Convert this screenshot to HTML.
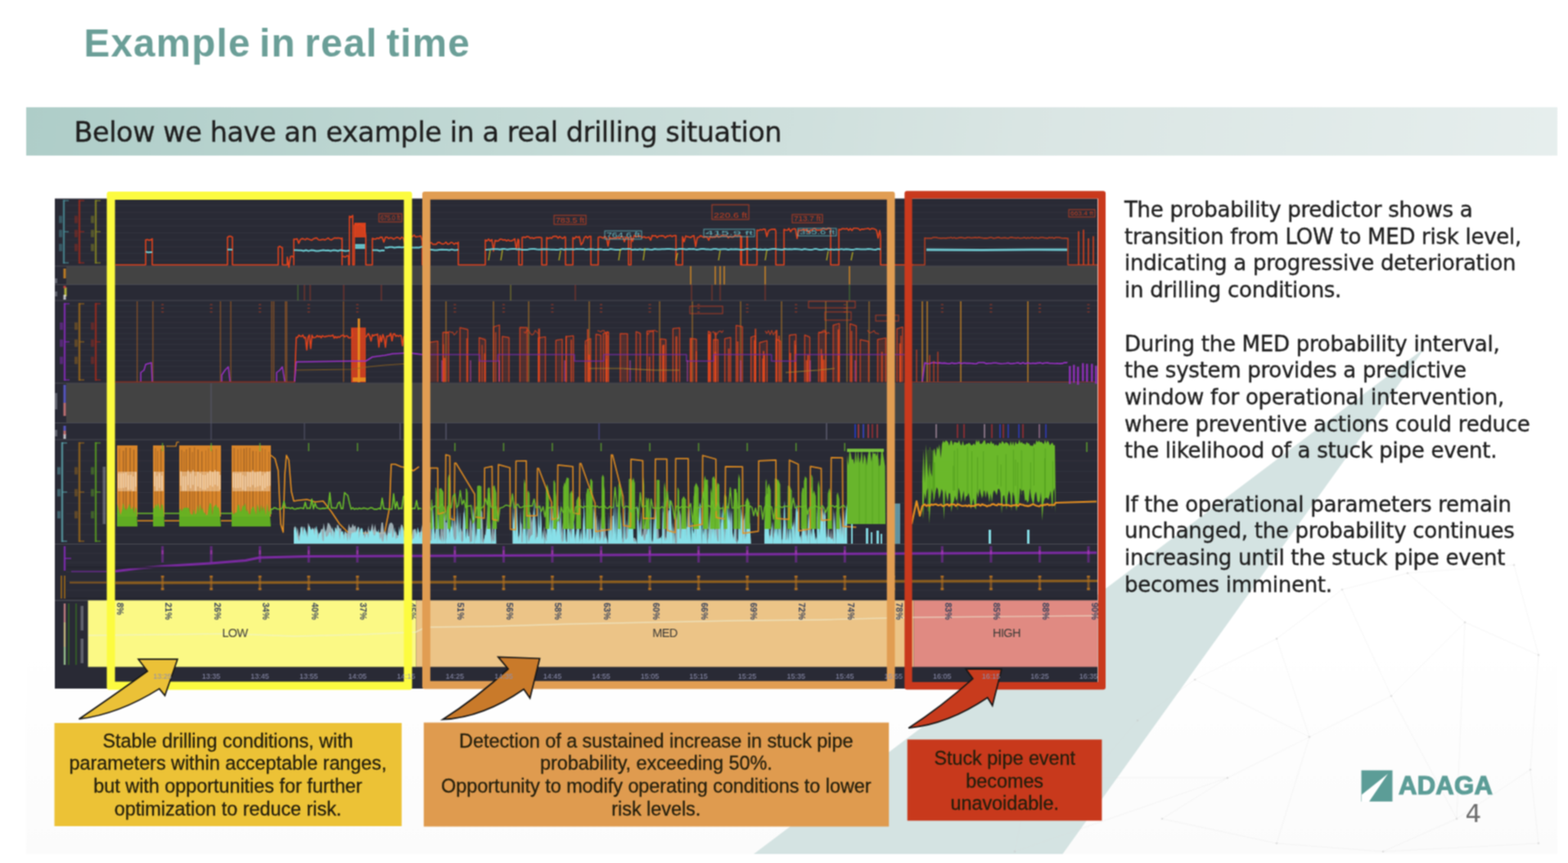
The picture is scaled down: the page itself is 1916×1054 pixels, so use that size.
<!DOCTYPE html>
<html><head><meta charset="utf-8"><title>Example in real time</title>
<style>
html,body{margin:0;padding:0;}
body{width:1916px;height:1054px;overflow:hidden;position:relative;background:#fff;font-family:"DejaVu Sans","Liberation Sans",sans-serif;}
.abs{position:absolute;}
#title{left:102.5px;top:22.5px;font-family:"Liberation Sans",Arial,sans-serif;font-weight:bold;font-size:47.5px;letter-spacing:1.25px;word-spacing:-4px;color:#6b9f98;white-space:nowrap;line-height:60px;}
#banner{left:32px;top:131px;width:1871px;height:58.5px;background:linear-gradient(100deg,#aecdc8 0%,#c4dad6 35%,#d9e5e3 65%,#e6eeed 100%);}
#banner span{position:absolute;left:58.5px;top:11px;font-size:33.5px;letter-spacing:-0.44px;color:#1f1f1f;white-space:nowrap;line-height:40px;}
#rtext{left:1374px;top:240px;width:540px;font-size:26px;letter-spacing:-0.27px;line-height:32.7px;color:#1e1e1e;}
#rtext p{margin:0 0 32.7px 0;white-space:nowrap;}
#rtext,#banner span{-webkit-text-stroke:0.35px currentColor;}
.box{-webkit-text-stroke:0.3px currentColor;}
#page{position:absolute;left:0;top:0;width:1916px;height:1054px;filter:url(#soft);}
.box{position:absolute;font-family:"Liberation Sans",Arial,sans-serif;font-size:23.35px;line-height:27.7px;color:#231e0c;text-align:center;}
#logo{left:1709px;top:942px;font-family:"Liberation Sans",Arial,sans-serif;font-weight:bold;font-size:31px;color:#5c9d97;letter-spacing:0.3px;-webkit-text-stroke:1.2px #5c9d97;line-height:36px;}
#pnum{left:1790.5px;top:975px;font-family:"DejaVu Sans","Liberation Sans",sans-serif;font-weight:normal;font-size:31px;color:#6e6e6e;line-height:36px;}
</style></head><body>

<svg width="0" height="0" style="position:absolute"><filter id="soft" x="0" y="0" width="100%" height="100%" color-interpolation-filters="sRGB"><feConvolveMatrix order="3" kernelMatrix="1 2 1 2 4 2 1 2 1" divisor="16" edgeMode="duplicate"/></filter></svg>
<div id="page">
<svg class="abs" style="left:0;top:0" width="1916" height="1054" viewBox="0 0 1916 1054">
<defs><linearGradient id="panelg" x1="0" y1="0" x2="0" y2="1"><stop offset="0" stop-color="#ffffff"/><stop offset="0.7" stop-color="#ffffff"/><stop offset="1" stop-color="#fbfbfb"/></linearGradient></defs>

<rect x="32" y="195" width="1871" height="848" fill="url(#panelg)"/>
<polygon points="1741,425 1298.5,1043 921,1043" fill="#d4e3e2"/>

<line x1="1390" y1="880" x2="1460" y2="830" stroke="#d8d8d8" stroke-width="0.7" opacity="0.35"/><line x1="1460" y1="830" x2="1560" y2="780" stroke="#d8d8d8" stroke-width="0.7" opacity="0.35"/><line x1="1560" y1="780" x2="1640" y2="720" stroke="#d8d8d8" stroke-width="0.7" opacity="0.35"/><line x1="1640" y1="720" x2="1720" y2="700" stroke="#d8d8d8" stroke-width="0.7" opacity="0.35"/><line x1="1720" y1="700" x2="1850" y2="690" stroke="#d8d8d8" stroke-width="0.7" opacity="0.35"/><line x1="1850" y1="690" x2="1880" y2="800" stroke="#d8d8d8" stroke-width="0.7" opacity="0.35"/><line x1="1720" y1="700" x2="1790" y2="760" stroke="#d8d8d8" stroke-width="0.7" opacity="0.35"/><line x1="1790" y1="760" x2="1880" y2="800" stroke="#d8d8d8" stroke-width="0.7" opacity="0.35"/><line x1="1790" y1="760" x2="1700" y2="850" stroke="#d8d8d8" stroke-width="0.7" opacity="0.35"/><line x1="1700" y1="850" x2="1600" y2="900" stroke="#d8d8d8" stroke-width="0.7" opacity="0.35"/><line x1="1600" y1="900" x2="1500" y2="950" stroke="#d8d8d8" stroke-width="0.7" opacity="0.35"/><line x1="1500" y1="950" x2="1420" y2="1000" stroke="#d8d8d8" stroke-width="0.7" opacity="0.35"/><line x1="1420" y1="1000" x2="1560" y2="1030" stroke="#d8d8d8" stroke-width="0.7" opacity="0.35"/><line x1="1560" y1="1030" x2="1690" y2="1040" stroke="#d8d8d8" stroke-width="0.7" opacity="0.35"/><line x1="1690" y1="1040" x2="1780" y2="1000" stroke="#d8d8d8" stroke-width="0.7" opacity="0.35"/><line x1="1780" y1="1000" x2="1870" y2="940" stroke="#d8d8d8" stroke-width="0.7" opacity="0.35"/><line x1="1870" y1="940" x2="1880" y2="800" stroke="#d8d8d8" stroke-width="0.7" opacity="0.35"/><line x1="1870" y1="940" x2="1880" y2="1030" stroke="#d8d8d8" stroke-width="0.7" opacity="0.35"/><line x1="1880" y1="1030" x2="1690" y2="1040" stroke="#d8d8d8" stroke-width="0.7" opacity="0.35"/><line x1="1600" y1="900" x2="1560" y2="1030" stroke="#d8d8d8" stroke-width="0.7" opacity="0.35"/><line x1="1560" y1="780" x2="1600" y2="900" stroke="#d8d8d8" stroke-width="0.7" opacity="0.35"/><line x1="1700" y1="850" x2="1780" y2="1000" stroke="#d8d8d8" stroke-width="0.7" opacity="0.35"/><line x1="1390" y1="880" x2="1330" y2="950" stroke="#d8d8d8" stroke-width="0.7" opacity="0.35"/><line x1="1330" y1="950" x2="1250" y2="990" stroke="#d8d8d8" stroke-width="0.7" opacity="0.35"/><line x1="1250" y1="990" x2="1240" y2="1040" stroke="#d8d8d8" stroke-width="0.7" opacity="0.35"/><line x1="1330" y1="950" x2="1500" y2="950" stroke="#d8d8d8" stroke-width="0.7" opacity="0.35"/><line x1="1460" y1="830" x2="1600" y2="900" stroke="#d8d8d8" stroke-width="0.7" opacity="0.35"/><line x1="1640" y1="720" x2="1700" y2="850" stroke="#d8d8d8" stroke-width="0.7" opacity="0.35"/><line x1="1790" y1="760" x2="1780" y2="1000" stroke="#d8d8d8" stroke-width="0.7" opacity="0.35"/><line x1="1500" y1="950" x2="1240" y2="1040" stroke="#d8d8d8" stroke-width="0.7" opacity="0.35"/><circle cx="1390" cy="880" r="1.3" fill="#c4c4c4" opacity="0.45"/><circle cx="1460" cy="830" r="1.3" fill="#c4c4c4" opacity="0.45"/><circle cx="1560" cy="780" r="1.3" fill="#c4c4c4" opacity="0.45"/><circle cx="1640" cy="720" r="1.3" fill="#c4c4c4" opacity="0.45"/><circle cx="1720" cy="700" r="1.3" fill="#c4c4c4" opacity="0.45"/><circle cx="1850" cy="690" r="1.3" fill="#c4c4c4" opacity="0.45"/><circle cx="1790" cy="760" r="1.3" fill="#c4c4c4" opacity="0.45"/><circle cx="1880" cy="800" r="1.3" fill="#c4c4c4" opacity="0.45"/><circle cx="1700" cy="850" r="1.3" fill="#c4c4c4" opacity="0.45"/><circle cx="1600" cy="900" r="1.3" fill="#c4c4c4" opacity="0.45"/><circle cx="1500" cy="950" r="1.3" fill="#c4c4c4" opacity="0.45"/><circle cx="1420" cy="1000" r="1.3" fill="#c4c4c4" opacity="0.45"/><circle cx="1560" cy="1030" r="1.3" fill="#c4c4c4" opacity="0.45"/><circle cx="1690" cy="1040" r="1.3" fill="#c4c4c4" opacity="0.45"/><circle cx="1780" cy="1000" r="1.3" fill="#c4c4c4" opacity="0.45"/><circle cx="1870" cy="940" r="1.3" fill="#c4c4c4" opacity="0.45"/><circle cx="1880" cy="1030" r="1.3" fill="#c4c4c4" opacity="0.45"/><circle cx="1330" cy="950" r="1.3" fill="#c4c4c4" opacity="0.45"/><circle cx="1250" cy="990" r="1.3" fill="#c4c4c4" opacity="0.45"/><circle cx="1240" cy="1040" r="1.3" fill="#c4c4c4" opacity="0.45"/>
<rect x="67" y="242.5" width="1274" height="598.5" fill="#292a35" />
<rect x="81" y="325" width="1260" height="22.5" fill="#434343" />
<rect x="81" y="468" width="1260" height="48.5" fill="#434343" />
<line x1="81" y1="250.9" x2="1341" y2="250.9" stroke="#32333e" stroke-width="1"/>
<line x1="81" y1="259.3" x2="1341" y2="259.3" stroke="#32333e" stroke-width="1"/>
<line x1="81" y1="267.7" x2="1341" y2="267.7" stroke="#32333e" stroke-width="1"/>
<line x1="81" y1="276.1" x2="1341" y2="276.1" stroke="#32333e" stroke-width="1"/>
<line x1="81" y1="284.5" x2="1341" y2="284.5" stroke="#32333e" stroke-width="1"/>
<line x1="81" y1="292.9" x2="1341" y2="292.9" stroke="#32333e" stroke-width="1"/>
<line x1="81" y1="301.3" x2="1341" y2="301.3" stroke="#32333e" stroke-width="1"/>
<line x1="81" y1="309.7" x2="1341" y2="309.7" stroke="#32333e" stroke-width="1"/>
<line x1="81" y1="318.1" x2="1341" y2="318.1" stroke="#32333e" stroke-width="1"/>
<line x1="81" y1="373.7" x2="1341" y2="373.7" stroke="#32333e" stroke-width="1"/>
<line x1="81" y1="380.4" x2="1341" y2="380.4" stroke="#32333e" stroke-width="1"/>
<line x1="81" y1="387.1" x2="1341" y2="387.1" stroke="#32333e" stroke-width="1"/>
<line x1="81" y1="393.8" x2="1341" y2="393.8" stroke="#32333e" stroke-width="1"/>
<line x1="81" y1="400.5" x2="1341" y2="400.5" stroke="#32333e" stroke-width="1"/>
<line x1="81" y1="407.2" x2="1341" y2="407.2" stroke="#32333e" stroke-width="1"/>
<line x1="81" y1="413.9" x2="1341" y2="413.9" stroke="#32333e" stroke-width="1"/>
<line x1="81" y1="420.6" x2="1341" y2="420.6" stroke="#32333e" stroke-width="1"/>
<line x1="81" y1="427.3" x2="1341" y2="427.3" stroke="#32333e" stroke-width="1"/>
<line x1="81" y1="434" x2="1341" y2="434" stroke="#32333e" stroke-width="1"/>
<line x1="81" y1="440.7" x2="1341" y2="440.7" stroke="#32333e" stroke-width="1"/>
<line x1="81" y1="447.4" x2="1341" y2="447.4" stroke="#32333e" stroke-width="1"/>
<line x1="81" y1="454.1" x2="1341" y2="454.1" stroke="#32333e" stroke-width="1"/>
<line x1="81" y1="460.8" x2="1341" y2="460.8" stroke="#32333e" stroke-width="1"/>
<line x1="81" y1="549.9" x2="1341" y2="549.9" stroke="#32333e" stroke-width="1"/>
<line x1="81" y1="562.8" x2="1341" y2="562.8" stroke="#32333e" stroke-width="1"/>
<line x1="81" y1="575.7" x2="1341" y2="575.7" stroke="#32333e" stroke-width="1"/>
<line x1="81" y1="588.6" x2="1341" y2="588.6" stroke="#32333e" stroke-width="1"/>
<line x1="81" y1="601.5" x2="1341" y2="601.5" stroke="#32333e" stroke-width="1"/>
<line x1="81" y1="614.4" x2="1341" y2="614.4" stroke="#32333e" stroke-width="1"/>
<line x1="81" y1="627.3" x2="1341" y2="627.3" stroke="#32333e" stroke-width="1"/>
<line x1="81" y1="640.2" x2="1341" y2="640.2" stroke="#32333e" stroke-width="1"/>
<line x1="81" y1="653.1" x2="1341" y2="653.1" stroke="#32333e" stroke-width="1"/>
<line x1="81" y1="675.8" x2="1341" y2="675.8" stroke="#32333e" stroke-width="1"/>
<line x1="81" y1="687.1" x2="1341" y2="687.1" stroke="#32333e" stroke-width="1"/>
<line x1="81" y1="698.4" x2="1341" y2="698.4" stroke="#32333e" stroke-width="1"/>
<line x1="81" y1="709.7" x2="1341" y2="709.7" stroke="#32333e" stroke-width="1"/>
<line x1="81" y1="721" x2="1341" y2="721" stroke="#32333e" stroke-width="1"/>
<line x1="81" y1="732.3" x2="1341" y2="732.3" stroke="#32333e" stroke-width="1"/>
<line x1="67" y1="325" x2="1341" y2="325" stroke="#4a4b53" stroke-width="1.2"/>
<line x1="67" y1="347.5" x2="1341" y2="347.5" stroke="#4a4b53" stroke-width="1.2"/>
<line x1="67" y1="367" x2="1341" y2="367" stroke="#4a4b53" stroke-width="1.2"/>
<line x1="67" y1="468" x2="1341" y2="468" stroke="#4a4b53" stroke-width="1.2"/>
<line x1="67" y1="516.5" x2="1341" y2="516.5" stroke="#4a4b53" stroke-width="1.2"/>
<line x1="67" y1="537" x2="1341" y2="537" stroke="#4a4b53" stroke-width="1.2"/>
<line x1="67" y1="664.5" x2="1341" y2="664.5" stroke="#4a4b53" stroke-width="1.2"/>
<line x1="67" y1="733.3" x2="1341" y2="733.3" stroke="#4a4b53" stroke-width="1.2"/>
<polyline points="141,323.5 178,323.5 178,293 180,292.4 182,293.5 184,293.1 186,291.6 186,323.5 278,323.5 278,290 280,288.5 282,288.6 284,289.8 284,323.5 340,323.5 340,302 342,300.8 344,302.4 345,302.2 345,323.5 351,323.5 351,314 353,326.4 355,313.3 357,312.8 359,315 359,323.5 359,292 361,292.3 363,291.6 365,297.3 367,292.6 369,291.4 371,291.9 373,292.9 375,291.2 377,292.1 379,292.7 381,293.5 383,291.7 385,290.9 387,290.5 389,292.8 391,293.2 393,292.6 395,292.3 397,293.1 399,291.9 401,290.6 403,292.5 405,293 407,291.6 409,290.5 411,290.9 413,290.6 415,290.8 417,291.7 418,290.7 418,323.5 418,313 420,313.2 422,314 424,312.3 426,312.5 426,323.5 427,323.5 427,264 429,265.5 431,263 431,323.5 433,323.5 433,275 435,274.1 437,275.3 439,273.4 441,274.6 443,276.4 445,275 447,287.9 447,323.5 455,323.5 455,291 457,291.9 459,292 461,290.7 463,291.4 465,289.6 467,289.9 469,295.7 471,289.7 473,289.5 475,291.4 477,290.2 479,290.6 481,292.1 483,290.9 485,289.7 487,290.5 489,292.1 491,289.5 493,291.1 495,299.8 497,292.5 499,291.6 500,290.6 500,323.5 500,288 502,288.9 504,288.9 506,287.1 508,289.6 510,289 512,288.8 514,288.1 516,294.1 516,323.5 525,323.5 525,297 527,296.2 529,298.5 531,298.4 533,298.5 535,296.1 537,296 539,297.4 541,298.1 543,297.5 545,295.7 547,298.3 549,297.8 551,296 553,296.5 555,298.5 557,296.7 559,297.7 560,295.8 560,323.5 593,323.5 593,293 595,294.3 597,291.9 599,294.5 601,292.5 603,306.7 605,293.5 607,294.4 609,294.2 611,292.1 613,292.3 615,293.3 617,292.7 619,294.3 621,292.9 623,294.3 625,294.3 627,293.1 629,291.5 631,304.8 633,292 634,293.7 634,323.5 638,323.5 638,290 640,289.4 642,290.2 644,288.7 646,289.2 648,290.9 650,290.2 652,291.3 654,290.4 656,290 658,289.8 660,289.9 662,290.6 662,323.5 668,323.5 668,290 670,291.4 672,290.2 674,291.1 676,288.8 678,288.6 680,288.6 682,290.9 684,288.9 686,290.5 688,291.2 690,289.1 691,289.7 691,323.5 700,323.5 700,290 702,291.6 704,288.9 706,290 708,289 710,299.1 712,296.6 714,290.4 716,288.6 718,290.9 720,288.7 722,288.5 722,323.5 731,323.5 731,290 733,289.3 735,289.8 737,291 739,288.9 741,290.2 743,300.6 745,289.8 747,291.4 749,291 751,291.1 753,291.2 755,289.5 757,291.4 759,288.8 761,289.2 763,295.2 765,289.4 767,290.8 768,290 768,323.5 771,323.5 771,289 773,294.8 775,287.4 777,289.2 779,288.9 781,287.7 783,288.8 785,290.1 787,289 789,290.5 791,290.1 793,289.4 795,293.4 797,287.6 799,288.2 801,287.7 803,290.2 805,288.3 807,288.3 809,287.9 811,288.2 813,290.5 815,288.2 817,288.4 819,287.4 821,288.9 823,288 825,287.4 826,287.7 826,323.5 834,323.5 834,289 836,295.3 838,288.1 840,289.1 842,289.5 844,290.2 846,288.4 848,287.9 850,301.2 852,290.3 854,289.7 856,287.8 858,289 860,290 862,289.3 864,289.6 866,293.5 868,288.6 870,290.1 872,289.4 874,289.6 876,287.4 878,289.8 880,289.1 882,287.6 884,288.2 886,288.2 888,288.1 890,290.5 892,288.6 894,289.6 896,289.4 898,287.6 900,288.2 902,288.4 904,287.4 905,288.3 905,323.5 925,323.5 925,281 927,281.6 929,280.3 931,280.9 933,279.8 935,280 937,289 939,282 941,280.8 943,280.1 945,280.1 947,279.9 948,282.4 948,323.5 958,323.5 958,280 960,281 962,281.2 964,279.1 966,283 968,280 970,279.4 972,279.5 974,291.3 976,281.1 978,281.4 980,281.3 982,279.6 984,281.6 986,279.6 988,284.1 990,281.1 992,281.4 994,279.3 996,279 998,281.5 1000,281 1002,281.3 1004,280.2 1006,278.6 1008,279.8 1010,280.5 1012,278.6 1014,278.8 1015,279.5 1015,323.5 1025,323.5 1025,280 1027,280.8 1029,279.2 1031,279.4 1033,279.7 1035,278.9 1037,281.3 1039,279.1 1041,281.6 1043,278.8 1045,278.7 1047,278.7 1049,279.2 1051,281.2 1053,279.7 1055,280.1 1057,279.5 1059,279.3 1061,278.8 1063,280.4 1065,279.1 1067,279.2 1069,279.8 1071,281.1 1073,290.8 1075,281.3 1076,287.3 1076,323.5 1116,323.5" fill="none" stroke="#e3431c" stroke-width="1.6" stroke-linejoin="round"/>
<polyline points="1114,323.5 1130,323.5 1130,290.5 1132,291.1 1134,291 1136,291 1138,291.2 1140,290.1 1142,290 1144,290 1146,290.5 1148,290.8 1150,291.1 1152,290.8 1154,290.7 1156,290.9 1158,290.4 1160,290.6 1162,289.9 1164,290.9 1166,290.1 1168,291.1 1170,290.7 1172,290.2 1174,290 1176,290.2 1178,290.7 1180,290.8 1182,290 1184,289.9 1186,290.5 1188,290.6 1190,290.3 1192,290.1 1194,290.6 1196,289.8 1198,290.2 1200,290.4 1202,291.1 1204,290.7 1206,291 1208,290.5 1210,290.1 1212,290.1 1214,291.1 1216,290.8 1218,290.2 1220,289.8 1222,290.5 1224,290.7 1226,290.4 1228,290.2 1230,290.7 1232,291.1 1234,290.1 1236,289.8 1238,290.3 1240,290.4 1242,290.8 1244,290.1 1246,290.9 1248,290.8 1250,290.5 1252,290.1 1254,291.2 1256,290.2 1258,290.9 1260,290.1 1262,290.1 1264,290.9 1266,290.2 1268,291.1 1270,290.5 1272,290.1 1274,290.1 1276,290.4 1278,290.7 1280,291.1 1282,290 1284,290.4 1286,290.1 1288,291.2 1290,290 1292,289.9 1294,289.9 1296,290.4 1298,291.1 1300,291 1302,290.8 1304,291.2 1305,291.1 1305,323.5 1341,323.5" fill="none" stroke="#c8401e" stroke-width="1.5" stroke-linejoin="round" opacity="0.9"/>
<rect x="433" y="272" width="14" height="18" fill="#e3431c" opacity="0.9" />
<line x1="906" y1="288" x2="906" y2="323" stroke="#e3431c" stroke-width="2.2" opacity="0.9"/>
<line x1="913" y1="288" x2="913" y2="323" stroke="#e3431c" stroke-width="2.2" opacity="0.9"/>
<line x1="1318" y1="323.5" x2="1318" y2="282.6" stroke="#e3431c" stroke-width="1.5"/>
<line x1="1324" y1="323.5" x2="1324" y2="280.6" stroke="#e3431c" stroke-width="1.5"/>
<line x1="1330" y1="323.5" x2="1330" y2="291.1" stroke="#e3431c" stroke-width="1.5"/>
<line x1="1336" y1="323.5" x2="1336" y2="288.4" stroke="#e3431c" stroke-width="1.5"/>
<polyline points="178,307.4 181,308.2 184,307.9 186,308" fill="none" stroke="#6ccdd4" stroke-width="2.0" stroke-linejoin="round"/>
<polyline points="278,304.8 281,304.8 284,305" fill="none" stroke="#6ccdd4" stroke-width="2.0" stroke-linejoin="round"/>
<polyline points="359,305.6 362,305.4 365,305.7 368,305.8 371,306.5 374,305.5 377,306.6 380,305.6 383,305.8 386,306.4 389,306.4 392,305.9 395,305.5 398,306 401,305.8 404,306.5 407,305.6 410,305.8 413,306.5 416,305.4 419,305.9 422,306.4 425,306.3 427,306" fill="none" stroke="#6ccdd4" stroke-width="2.0" stroke-linejoin="round"/>
<polyline points="455,305.4 458,305.4 461,305.5 464,306.5 467,305.7 470,306" fill="none" stroke="#6ccdd4" stroke-width="2.0" stroke-linejoin="round"/>
<polyline points="470,302.3 473,302.5 476,301.8 479,301.7 482,302.5 485,302.1 488,301.7 491,302.3 494,301.8 497,301.7 500,301.4 503,302.3 506,302.5 509,302.2 512,302.5 515,301.4 516,302" fill="none" stroke="#6ccdd4" stroke-width="2.0" stroke-linejoin="round"/>
<polyline points="525,304.7 528,305 531,305.5 534,305.5 537,304.9 540,304.7 543,304.9 546,305 549,305.5 552,304.6 555,305.4 558,305.3 560,305" fill="none" stroke="#6ccdd4" stroke-width="2.0" stroke-linejoin="round"/>
<polyline points="593,304.9 596,304.8 599,304.6 602,304.3 605,304.3 608,304.3 611,304.8 614,304 617,304.1 620,304.8 623,304.2 626,304 629,303.9 632,304.6 635,304.3 638,305.1 641,305 644,305.1 647,304.2 650,304 653,304 656,304.5 659,304.8 662,304.4 665,304.2 668,304.4 671,304.6 674,304.7 677,304.8 680,304.9 683,304.7 686,304 689,304.9 692,304.3 695,304.6 698,304.3 701,304.8 704,304.1 707,304.2 710,304.2 713,304.1 716,305 719,304.6 722,304.3 725,304.4 728,305.1 731,304.5 734,304.2 737,304.9 740,304.7 743,305.1 746,304 749,304.5 752,304.9 755,304.9 758,305 761,303.9 764,304.3 767,304 770,304.1 773,305.1 776,304.6 779,305 782,304.3 785,304.9 788,304.4 791,304.2 794,304.8 797,305 800,304 803,304.6 806,304.6 809,304.2 812,304.3 815,304.1 818,304.1 821,304.2 824,304.6 827,304.7 830,304.1 833,303.9 836,304.3 839,304.7 842,304.1 845,304.3 848,304.1 851,304.9 854,304.6 857,304 860,304 863,304.4 866,304.6 869,304.7 872,304 875,304.1 878,304.7 881,304.4 884,304.2 887,304.3 890,305 893,304.3 896,304.6 899,304.3 902,304.4 905,304.9 908,305.1 911,304.3 914,304.1 917,304.8 920,304.1 923,303.9 926,305 929,304.4 932,304.9 935,304.4 938,305 941,304.5 944,304.1 947,303.9 950,304.6 953,304.7 956,305 959,304 962,304.6 965,304.3 968,304.5 971,304.1 974,304.2 977,304.5 980,305 983,304 986,304.5 989,304.9 992,305.1 995,304.1 998,304.1 1001,305 1004,305.1 1007,304.5 1010,304 1013,305 1016,304.4 1019,305 1022,304.6 1025,304.9 1028,304.1 1031,304.8 1034,304.2 1037,304.4 1040,304.9 1043,304.9 1046,304.1 1049,304.2 1052,304.4 1055,304.5 1058,304.4 1061,304 1064,304.2 1067,304.8 1070,305 1073,303.9 1076,304.5" fill="none" stroke="#6ccdd4" stroke-width="2.0" stroke-linejoin="round"/>
<rect x="434" y="298" width="12" height="6" fill="#6ccdd4" opacity="0.9" />
<polyline points="1132,305 1200,305.3 1260,304.8 1304,305" fill="none" stroke="#74d2da" stroke-width="2.8" stroke-linejoin="round" opacity="0.95"/>
<rect x="463" y="261" width="28" height="10" fill="none" stroke="#e3431c" stroke-width="1" opacity="0.75"/>
<text x="477.0" y="269.0" font-family="Liberation Sans, Arial, sans-serif" font-size="9" fill="#e3431c" text-anchor="middle" opacity="0.85" textLength="24" lengthAdjust="spacingAndGlyphs">675.0 ft</text>
<rect x="677" y="263" width="39" height="11" fill="none" stroke="#e3431c" stroke-width="1" opacity="0.75"/>
<text x="696.5" y="272.0" font-family="Liberation Sans, Arial, sans-serif" font-size="9" fill="#e3431c" text-anchor="middle" opacity="0.85" textLength="35" lengthAdjust="spacingAndGlyphs">783.5 ft</text>
<rect x="870" y="250" width="45" height="18" fill="none" stroke="#e3431c" stroke-width="1" opacity="0.75"/>
<text x="892.5" y="266.0" font-family="Liberation Sans, Arial, sans-serif" font-size="9" fill="#e3431c" text-anchor="middle" opacity="0.85" textLength="41" lengthAdjust="spacingAndGlyphs">220.6 ft</text>
<rect x="968" y="262" width="37" height="10" fill="none" stroke="#e3431c" stroke-width="1" opacity="0.75"/>
<text x="986.5" y="270.0" font-family="Liberation Sans, Arial, sans-serif" font-size="9" fill="#e3431c" text-anchor="middle" opacity="0.85" textLength="33" lengthAdjust="spacingAndGlyphs">713.7 ft</text>
<rect x="1306" y="256" width="32" height="9" fill="none" stroke="#e3431c" stroke-width="1" opacity="0.75"/>
<text x="1322.0" y="263.0" font-family="Liberation Sans, Arial, sans-serif" font-size="8" fill="#e3431c" text-anchor="middle" opacity="0.85" textLength="28" lengthAdjust="spacingAndGlyphs">663.4 ft</text>
<rect x="739" y="282" width="45" height="10" fill="none" stroke="#6ccdd4" stroke-width="1" opacity="0.75"/>
<text x="761.5" y="290.0" font-family="Liberation Sans, Arial, sans-serif" font-size="9" fill="#6ccdd4" text-anchor="middle" opacity="0.85" textLength="41" lengthAdjust="spacingAndGlyphs">764.6 ft</text>
<rect x="860" y="280" width="62" height="9" fill="none" stroke="#6ccdd4" stroke-width="1" opacity="0.75"/>
<text x="891.0" y="287.0" font-family="Liberation Sans, Arial, sans-serif" font-size="8" fill="#6ccdd4" text-anchor="middle" opacity="0.85" textLength="58" lengthAdjust="spacingAndGlyphs">415.9 ft</text>
<rect x="975" y="279" width="47" height="9" fill="none" stroke="#6ccdd4" stroke-width="1" opacity="0.75"/>
<text x="998.5" y="286.0" font-family="Liberation Sans, Arial, sans-serif" font-size="8" fill="#6ccdd4" text-anchor="middle" opacity="0.85" textLength="43" lengthAdjust="spacingAndGlyphs">355.6 ft</text>
<line x1="597" y1="318" x2="599" y2="305.3" stroke="#d7cf1f" stroke-width="1.3" opacity="0.8"/>
<line x1="612" y1="318" x2="614" y2="305.2" stroke="#d7cf1f" stroke-width="1.3" opacity="0.8"/>
<line x1="683" y1="318" x2="685" y2="306" stroke="#d7cf1f" stroke-width="1.3" opacity="0.8"/>
<line x1="756" y1="318" x2="758" y2="304.1" stroke="#d7cf1f" stroke-width="1.3" opacity="0.8"/>
<line x1="786" y1="318" x2="788" y2="303" stroke="#d7cf1f" stroke-width="1.3" opacity="0.8"/>
<line x1="826" y1="318" x2="828" y2="308.9" stroke="#d7cf1f" stroke-width="1.3" opacity="0.8"/>
<line x1="878" y1="318" x2="880" y2="305.8" stroke="#d7cf1f" stroke-width="1.3" opacity="0.8"/>
<line x1="935" y1="318" x2="937" y2="305.7" stroke="#d7cf1f" stroke-width="1.3" opacity="0.8"/>
<line x1="1010" y1="318" x2="1012" y2="306.7" stroke="#d7cf1f" stroke-width="1.3" opacity="0.8"/>
<line x1="1040" y1="318" x2="1042" y2="307.9" stroke="#d7cf1f" stroke-width="1.3" opacity="0.8"/>
<line x1="844" y1="325" x2="844" y2="347.5" stroke="#e8901f" stroke-width="1.6" opacity="0.8"/>
<line x1="874" y1="325" x2="874" y2="347.5" stroke="#e8901f" stroke-width="1.6" opacity="0.8"/>
<line x1="880" y1="325" x2="880" y2="347.5" stroke="#e8901f" stroke-width="1.6" opacity="0.8"/>
<line x1="885" y1="325" x2="885" y2="347.5" stroke="#e8901f" stroke-width="1.6" opacity="0.8"/>
<line x1="935" y1="325" x2="935" y2="347.5" stroke="#e8901f" stroke-width="1.6" opacity="0.8"/>
<line x1="1038" y1="325" x2="1038" y2="347.5" stroke="#e8901f" stroke-width="1.6" opacity="0.8"/>
<line x1="624" y1="348" x2="624" y2="367" stroke="#d7cf1f" stroke-width="1" opacity="0.55"/>
<line x1="364" y1="348" x2="364" y2="367" stroke="#6abd2a" stroke-width="1" opacity="0.55"/>
<line x1="372" y1="348" x2="372" y2="367" stroke="#e3431c" stroke-width="1" opacity="0.55"/>
<line x1="379" y1="348" x2="379" y2="367" stroke="#e3431c" stroke-width="1" opacity="0.55"/>
<line x1="420" y1="348" x2="420" y2="367" stroke="#e3431c" stroke-width="1" opacity="0.55"/>
<line x1="466" y1="348" x2="466" y2="367" stroke="#e3431c" stroke-width="1" opacity="0.55"/>
<line x1="703" y1="348" x2="703" y2="367" stroke="#e3431c" stroke-width="1" opacity="0.55"/>
<line x1="845" y1="348" x2="845" y2="367" stroke="#e3431c" stroke-width="1" opacity="0.55"/>
<line x1="870" y1="348" x2="870" y2="367" stroke="#e3431c" stroke-width="1" opacity="0.55"/>
<line x1="880" y1="348" x2="880" y2="367" stroke="#e3431c" stroke-width="1" opacity="0.55"/>
<line x1="935" y1="348" x2="935" y2="367" stroke="#e3431c" stroke-width="1" opacity="0.55"/>
<line x1="1038" y1="348" x2="1038" y2="367" stroke="#6abd2a" stroke-width="1" opacity="0.55"/>
<line x1="167.6" y1="368" x2="167.6" y2="466.5" stroke="#b8661e" stroke-width="1.4" opacity="0.6"/>
<line x1="186.8" y1="368" x2="186.8" y2="466.5" stroke="#b8661e" stroke-width="1.4" opacity="0.6"/>
<line x1="269.4" y1="368" x2="269.4" y2="466.5" stroke="#b8661e" stroke-width="1.4" opacity="0.6"/>
<line x1="282" y1="368" x2="282" y2="466.5" stroke="#b8661e" stroke-width="1.4" opacity="0.6"/>
<line x1="332" y1="368" x2="332" y2="466.5" stroke="#b8661e" stroke-width="1.4" opacity="0.6"/>
<line x1="334.5" y1="368" x2="334.5" y2="466.5" stroke="#b8661e" stroke-width="1.4" opacity="0.6"/>
<line x1="348.7" y1="368" x2="348.7" y2="466.5" stroke="#b8661e" stroke-width="1.4" opacity="0.6"/>
<line x1="350.4" y1="368" x2="350.4" y2="466.5" stroke="#b8661e" stroke-width="1.4" opacity="0.6"/>
<line x1="419.7" y1="368" x2="419.7" y2="466.5" stroke="#b8661e" stroke-width="1.4" opacity="0.6"/>
<line x1="545" y1="368" x2="545" y2="466.5" stroke="#d08a22" stroke-width="1.4" opacity="0.6"/>
<line x1="603" y1="368" x2="603" y2="466.5" stroke="#d08a22" stroke-width="1.4" opacity="0.6"/>
<line x1="646" y1="368" x2="646" y2="466.5" stroke="#d08a22" stroke-width="1.4" opacity="0.6"/>
<line x1="720" y1="368" x2="720" y2="466.5" stroke="#d08a22" stroke-width="1.4" opacity="0.6"/>
<line x1="806" y1="368" x2="806" y2="466.5" stroke="#d08a22" stroke-width="1.4" opacity="0.6"/>
<line x1="846" y1="368" x2="846" y2="466.5" stroke="#d08a22" stroke-width="1.4" opacity="0.6"/>
<line x1="905" y1="368" x2="905" y2="466.5" stroke="#d08a22" stroke-width="1.4" opacity="0.6"/>
<line x1="955" y1="368" x2="955" y2="466.5" stroke="#d08a22" stroke-width="1.4" opacity="0.6"/>
<line x1="1009" y1="368" x2="1009" y2="466.5" stroke="#d08a22" stroke-width="1.4" opacity="0.6"/>
<line x1="1035" y1="368" x2="1035" y2="466.5" stroke="#d08a22" stroke-width="1.4" opacity="0.6"/>
<line x1="1062" y1="368" x2="1062" y2="466.5" stroke="#d08a22" stroke-width="1.4" opacity="0.6"/>
<line x1="1088" y1="368" x2="1088" y2="466.5" stroke="#d08a22" stroke-width="1.4" opacity="0.6"/>
<line x1="1127" y1="368" x2="1127" y2="466.5" stroke="#d08a22" stroke-width="1.5" opacity="0.85"/>
<line x1="1133" y1="368" x2="1133" y2="466.5" stroke="#d08a22" stroke-width="1.5" opacity="0.85"/>
<line x1="1174" y1="368" x2="1174" y2="466.5" stroke="#d08a22" stroke-width="1.5" opacity="0.85"/>
<line x1="1256" y1="368" x2="1256" y2="466.5" stroke="#d08a22" stroke-width="1.5" opacity="0.85"/>
<line x1="197.1" y1="372" x2="200.1" y2="372" stroke="#e3431c" stroke-width="1.2" opacity="0.55"/>
<line x1="197.1" y1="376.5" x2="200.1" y2="376.5" stroke="#e3431c" stroke-width="1.2" opacity="0.55"/>
<line x1="197.1" y1="381" x2="200.1" y2="381" stroke="#e3431c" stroke-width="1.2" opacity="0.55"/>
<line x1="256.6" y1="372" x2="259.6" y2="372" stroke="#e3431c" stroke-width="1.2" opacity="0.55"/>
<line x1="256.6" y1="376.5" x2="259.6" y2="376.5" stroke="#e3431c" stroke-width="1.2" opacity="0.55"/>
<line x1="256.6" y1="381" x2="259.6" y2="381" stroke="#e3431c" stroke-width="1.2" opacity="0.55"/>
<line x1="316.1" y1="372" x2="319.1" y2="372" stroke="#e3431c" stroke-width="1.2" opacity="0.55"/>
<line x1="316.1" y1="376.5" x2="319.1" y2="376.5" stroke="#e3431c" stroke-width="1.2" opacity="0.55"/>
<line x1="316.1" y1="381" x2="319.1" y2="381" stroke="#e3431c" stroke-width="1.2" opacity="0.55"/>
<line x1="375.7" y1="372" x2="378.7" y2="372" stroke="#e3431c" stroke-width="1.2" opacity="0.55"/>
<line x1="375.7" y1="376.5" x2="378.7" y2="376.5" stroke="#e3431c" stroke-width="1.2" opacity="0.55"/>
<line x1="375.7" y1="381" x2="378.7" y2="381" stroke="#e3431c" stroke-width="1.2" opacity="0.55"/>
<line x1="435.2" y1="372" x2="438.2" y2="372" stroke="#e3431c" stroke-width="1.2" opacity="0.55"/>
<line x1="435.2" y1="376.5" x2="438.2" y2="376.5" stroke="#e3431c" stroke-width="1.2" opacity="0.55"/>
<line x1="435.2" y1="381" x2="438.2" y2="381" stroke="#e3431c" stroke-width="1.2" opacity="0.55"/>
<line x1="494.8" y1="372" x2="497.8" y2="372" stroke="#e3431c" stroke-width="1.2" opacity="0.55"/>
<line x1="494.8" y1="376.5" x2="497.8" y2="376.5" stroke="#e3431c" stroke-width="1.2" opacity="0.55"/>
<line x1="494.8" y1="381" x2="497.8" y2="381" stroke="#e3431c" stroke-width="1.2" opacity="0.55"/>
<line x1="554.3" y1="372" x2="557.3" y2="372" stroke="#e3431c" stroke-width="1.2" opacity="0.55"/>
<line x1="554.3" y1="376.5" x2="557.3" y2="376.5" stroke="#e3431c" stroke-width="1.2" opacity="0.55"/>
<line x1="554.3" y1="381" x2="557.3" y2="381" stroke="#e3431c" stroke-width="1.2" opacity="0.55"/>
<line x1="613.9" y1="372" x2="616.9" y2="372" stroke="#e3431c" stroke-width="1.2" opacity="0.55"/>
<line x1="613.9" y1="376.5" x2="616.9" y2="376.5" stroke="#e3431c" stroke-width="1.2" opacity="0.55"/>
<line x1="613.9" y1="381" x2="616.9" y2="381" stroke="#e3431c" stroke-width="1.2" opacity="0.55"/>
<line x1="673.4" y1="372" x2="676.4" y2="372" stroke="#e3431c" stroke-width="1.2" opacity="0.55"/>
<line x1="673.4" y1="376.5" x2="676.4" y2="376.5" stroke="#e3431c" stroke-width="1.2" opacity="0.55"/>
<line x1="673.4" y1="381" x2="676.4" y2="381" stroke="#e3431c" stroke-width="1.2" opacity="0.55"/>
<line x1="733" y1="372" x2="736" y2="372" stroke="#e3431c" stroke-width="1.2" opacity="0.55"/>
<line x1="733" y1="376.5" x2="736" y2="376.5" stroke="#e3431c" stroke-width="1.2" opacity="0.55"/>
<line x1="733" y1="381" x2="736" y2="381" stroke="#e3431c" stroke-width="1.2" opacity="0.55"/>
<line x1="792.5" y1="372" x2="795.5" y2="372" stroke="#e3431c" stroke-width="1.2" opacity="0.55"/>
<line x1="792.5" y1="376.5" x2="795.5" y2="376.5" stroke="#e3431c" stroke-width="1.2" opacity="0.55"/>
<line x1="792.5" y1="381" x2="795.5" y2="381" stroke="#e3431c" stroke-width="1.2" opacity="0.55"/>
<line x1="852.1" y1="372" x2="855.1" y2="372" stroke="#e3431c" stroke-width="1.2" opacity="0.55"/>
<line x1="852.1" y1="376.5" x2="855.1" y2="376.5" stroke="#e3431c" stroke-width="1.2" opacity="0.55"/>
<line x1="852.1" y1="381" x2="855.1" y2="381" stroke="#e3431c" stroke-width="1.2" opacity="0.55"/>
<line x1="911.6" y1="372" x2="914.6" y2="372" stroke="#e3431c" stroke-width="1.2" opacity="0.55"/>
<line x1="911.6" y1="376.5" x2="914.6" y2="376.5" stroke="#e3431c" stroke-width="1.2" opacity="0.55"/>
<line x1="911.6" y1="381" x2="914.6" y2="381" stroke="#e3431c" stroke-width="1.2" opacity="0.55"/>
<line x1="971.2" y1="372" x2="974.2" y2="372" stroke="#e3431c" stroke-width="1.2" opacity="0.55"/>
<line x1="971.2" y1="376.5" x2="974.2" y2="376.5" stroke="#e3431c" stroke-width="1.2" opacity="0.55"/>
<line x1="971.2" y1="381" x2="974.2" y2="381" stroke="#e3431c" stroke-width="1.2" opacity="0.55"/>
<line x1="1030.8" y1="372" x2="1033.8" y2="372" stroke="#e3431c" stroke-width="1.2" opacity="0.55"/>
<line x1="1030.8" y1="376.5" x2="1033.8" y2="376.5" stroke="#e3431c" stroke-width="1.2" opacity="0.55"/>
<line x1="1030.8" y1="381" x2="1033.8" y2="381" stroke="#e3431c" stroke-width="1.2" opacity="0.55"/>
<line x1="1090.3" y1="372" x2="1093.3" y2="372" stroke="#e3431c" stroke-width="1.2" opacity="0.55"/>
<line x1="1090.3" y1="376.5" x2="1093.3" y2="376.5" stroke="#e3431c" stroke-width="1.2" opacity="0.55"/>
<line x1="1090.3" y1="381" x2="1093.3" y2="381" stroke="#e3431c" stroke-width="1.2" opacity="0.55"/>
<line x1="1149.8" y1="372" x2="1152.8" y2="372" stroke="#e3431c" stroke-width="1.2" opacity="0.55"/>
<line x1="1149.8" y1="376.5" x2="1152.8" y2="376.5" stroke="#e3431c" stroke-width="1.2" opacity="0.55"/>
<line x1="1149.8" y1="381" x2="1152.8" y2="381" stroke="#e3431c" stroke-width="1.2" opacity="0.55"/>
<line x1="1209.4" y1="372" x2="1212.4" y2="372" stroke="#e3431c" stroke-width="1.2" opacity="0.55"/>
<line x1="1209.4" y1="376.5" x2="1212.4" y2="376.5" stroke="#e3431c" stroke-width="1.2" opacity="0.55"/>
<line x1="1209.4" y1="381" x2="1212.4" y2="381" stroke="#e3431c" stroke-width="1.2" opacity="0.55"/>
<line x1="1269" y1="372" x2="1272" y2="372" stroke="#e3431c" stroke-width="1.2" opacity="0.55"/>
<line x1="1269" y1="376.5" x2="1272" y2="376.5" stroke="#e3431c" stroke-width="1.2" opacity="0.55"/>
<line x1="1269" y1="381" x2="1272" y2="381" stroke="#e3431c" stroke-width="1.2" opacity="0.55"/>
<line x1="1328.5" y1="372" x2="1331.5" y2="372" stroke="#e3431c" stroke-width="1.2" opacity="0.55"/>
<line x1="1328.5" y1="376.5" x2="1331.5" y2="376.5" stroke="#e3431c" stroke-width="1.2" opacity="0.55"/>
<line x1="1328.5" y1="381" x2="1331.5" y2="381" stroke="#e3431c" stroke-width="1.2" opacity="0.55"/>
<polyline points="360,466.5 362,412 363.6,412.2 365.2,409.3 366.8,410.5 368.4,411 370,409.2 371.6,412.7 373.2,411.9 374.8,427.5 376.4,411.6 378,409.1 379.6,425.6 381.2,409.4 382.8,412.5 384.4,412.2 386,411.7 387.6,409.9 389.2,411.4 390.8,410.3 392.4,412.6 394,410 395.6,410.9 397.2,411.5 398.8,410.5 400.4,410.6 402,410.1 403.6,410.5 405.2,410.1 406.8,409.2 408.4,412.9 410,411.1 411.6,412.6 413.2,411.1 414.8,412 416.4,410.5 418,409.6 419.6,409.3 421.2,411.5 422.8,410.2 424.4,410.2 426,412.5 427.6,412.6 429.2,412 430.8,410.2 430,402" fill="none" stroke="#e3431c" stroke-width="1.6" stroke-linejoin="round"/>
<rect x="429" y="400" width="18" height="67" fill="#e3431c" opacity="0.85" />
<rect x="437" y="389" width="3" height="78" fill="#e8901f" opacity="0.9" />
<rect x="431" y="461" width="16" height="5" fill="#e8901f" opacity="0.9" />
<polyline points="447,412 448.6,409.5 450.2,407.3 451.8,410.7 453.4,416.5 455,408.8 456.6,410.2 458.2,408.8 459.8,409.2 461.4,408 463,424 464.6,409.7 466.2,417.4 467.8,408.6 469.4,412.8 471,424.2 472.6,410.6 474.2,410.6 475.8,410 477.4,407 479,416.3 480.6,408 482.2,407.6 483.8,410.9 485.4,409.5 487,410.9 488.6,409.5 490.2,410.1 491.8,422.3 493.4,411.3 495,410.2 496.6,409.6 498.2,407.5 499.8,408.1 501.4,408.6 503,407.7" fill="none" stroke="#e3431c" stroke-width="1.6" stroke-linejoin="round"/>
<polyline points="172,466 172,455 176,452 178,445 185,443 186,466" fill="none" stroke="#9b30c8" stroke-width="1.5" stroke-linejoin="round"/>
<polyline points="271,466 271,458 275,452 279,448 281,466" fill="none" stroke="#9b30c8" stroke-width="1.5" stroke-linejoin="round"/>
<polyline points="338,466 338,455 342,452 345,448 348,466" fill="none" stroke="#9b30c8" stroke-width="1.5" stroke-linejoin="round"/>
<polyline points="360,466 362,442 430,441 447,441 455,436 470,434 480,432 500,431 516,433" fill="none" stroke="#9b30c8" stroke-width="1.5" stroke-linejoin="round"/>
<polyline points="141,466.5 360,466.5" fill="none" stroke="#a8341c" stroke-width="1.6" stroke-linejoin="round" opacity="0.75"/>
<polyline points="362,452 430,451 450,448 470,446 500,444" fill="none" stroke="#9a6a1e" stroke-width="1.2" stroke-linejoin="round" opacity="0.8"/>
<rect x="525" y="418.1" width="10" height="48.4" fill="#e3431c" opacity="0.21085610013643902" />
<polyline points="525,466.5 525,418.1 535,416.7 535,466.5" fill="none" stroke="#e3431c" stroke-width="1.3" stroke-linejoin="round" opacity="0.85"/>
<rect x="541.2" y="405.9" width="7" height="60.6" fill="#e3431c" opacity="0.18615200271281623" />
<polyline points="541.2,466.5 541.2,405.9 548.2,406 548.2,466.5" fill="none" stroke="#e3431c" stroke-width="1.3" stroke-linejoin="round" opacity="0.85"/>
<line x1="543.3" y1="437.1" x2="543.3" y2="466.5" stroke="#f04a1c" stroke-width="2.4518491439803967" opacity="0.75"/>
<line x1="541.8" y1="420.3" x2="541.8" y2="466.5" stroke="#f04a1c" stroke-width="1.4376774114706823" opacity="0.75"/>
<rect x="562.1" y="400.1" width="9.6" height="66.4" fill="#e3431c" opacity="0.08546981066006581" />
<polyline points="562.1,466.5 562.1,400.1 571.6,402.6 571.6,466.5" fill="none" stroke="#e3431c" stroke-width="1.3" stroke-linejoin="round" opacity="0.85"/>
<line x1="570.5" y1="413.1" x2="570.5" y2="466.5" stroke="#f04a1c" stroke-width="1.5348348537924028" opacity="0.75"/>
<rect x="585.5" y="412.3" width="7.7" height="54.2" fill="#e3431c" opacity="0.1664377973574646" />
<polyline points="585.5,466.5 585.5,412.3 593.2,415.2 593.2,466.5" fill="none" stroke="#e3431c" stroke-width="1.3" stroke-linejoin="round" opacity="0.85"/>
<line x1="589.1" y1="421.2" x2="589.1" y2="466.5" stroke="#f04a1c" stroke-width="1.2089343965093184" opacity="0.75"/>
<line x1="585.7" y1="438.2" x2="585.7" y2="466.5" stroke="#f04a1c" stroke-width="1.5273598745351782" opacity="0.75"/>
<line x1="592.3" y1="431.6" x2="592.3" y2="466.5" stroke="#f04a1c" stroke-width="1.7481882771229065" opacity="0.75"/>
<rect x="603.2" y="399.3" width="7.1" height="67.2" fill="#e3431c" opacity="0.06526617768633669" />
<polyline points="603.2,466.5 603.2,399.3 610.3,397 610.3,466.5" fill="none" stroke="#e3431c" stroke-width="1.3" stroke-linejoin="round" opacity="0.85"/>
<line x1="605.7" y1="405.7" x2="605.7" y2="466.5" stroke="#f04a1c" stroke-width="1.240225679004325" opacity="0.75"/>
<rect x="613.8" y="410.8" width="8.2" height="55.7" fill="#e3431c" opacity="0.1715212357852789" />
<polyline points="613.8,466.5 613.8,410.8 622,412.3 622,466.5" fill="none" stroke="#e3431c" stroke-width="1.3" stroke-linejoin="round" opacity="0.85"/>
<rect x="635.3" y="400" width="8.9" height="66.5" fill="#e3431c" opacity="0.21273116209454934" />
<polyline points="635.3,466.5 635.3,400 644.2,400.2 644.2,466.5" fill="none" stroke="#e3431c" stroke-width="1.3" stroke-linejoin="round" opacity="0.85"/>
<rect x="657.7" y="412.8" width="8.8" height="53.7" fill="#e3431c" opacity="0.12141482723607526" />
<polyline points="657.7,466.5 657.7,412.8 666.5,411.3 666.5,466.5" fill="none" stroke="#e3431c" stroke-width="1.3" stroke-linejoin="round" opacity="0.85"/>
<line x1="658.7" y1="401.4" x2="658.7" y2="466.5" stroke="#f04a1c" stroke-width="2.3868041461375045" opacity="0.75"/>
<rect x="679.3" y="415.6" width="7.7" height="50.9" fill="#e3431c" opacity="0.16104583934814837" />
<polyline points="679.3,466.5 679.3,415.6 687,414.4 687,466.5" fill="none" stroke="#e3431c" stroke-width="1.3" stroke-linejoin="round" opacity="0.85"/>
<rect x="691.6" y="411.2" width="9.1" height="55.3" fill="#e3431c" opacity="0.10711350359814031" />
<polyline points="691.6,466.5 691.6,411.2 700.7,410.2 700.7,466.5" fill="none" stroke="#e3431c" stroke-width="1.3" stroke-linejoin="round" opacity="0.85"/>
<line x1="691.8" y1="410.3" x2="691.8" y2="466.5" stroke="#f04a1c" stroke-width="1.5956305091662053" opacity="0.75"/>
<line x1="698.1" y1="414.7" x2="698.1" y2="466.5" stroke="#f04a1c" stroke-width="1.649159466303382" opacity="0.75"/>
<rect x="715.3" y="416.3" width="6.5" height="50.2" fill="#e3431c" opacity="0.1589241370506941" />
<polyline points="715.3,466.5 715.3,416.3 721.8,413.5 721.8,466.5" fill="none" stroke="#e3431c" stroke-width="1.3" stroke-linejoin="round" opacity="0.85"/>
<line x1="715.5" y1="420.7" x2="715.5" y2="466.5" stroke="#f04a1c" stroke-width="1.3376193187050098" opacity="0.75"/>
<line x1="718.3" y1="401.9" x2="718.3" y2="466.5" stroke="#f04a1c" stroke-width="1.992536395067006" opacity="0.75"/>
<line x1="719.9" y1="433.1" x2="719.9" y2="466.5" stroke="#f04a1c" stroke-width="2.0043572764674993" opacity="0.75"/>
<rect x="728.3" y="408.1" width="5.9" height="58.4" fill="#e3431c" opacity="0.10613354654572131" />
<polyline points="728.3,466.5 728.3,408.1 734.2,409.6 734.2,466.5" fill="none" stroke="#e3431c" stroke-width="1.3" stroke-linejoin="round" opacity="0.85"/>
<rect x="737.2" y="407.3" width="6.4" height="59.2" fill="#e3431c" opacity="0.1874835036103009" />
<polyline points="737.2,466.5 737.2,407.3 743.6,405.4 743.6,466.5" fill="none" stroke="#e3431c" stroke-width="1.3" stroke-linejoin="round" opacity="0.85"/>
<line x1="741" y1="438.3" x2="741" y2="466.5" stroke="#f04a1c" stroke-width="1.9211963740349196" opacity="0.75"/>
<line x1="740.9" y1="406.4" x2="740.9" y2="466.5" stroke="#f04a1c" stroke-width="2.3413373209580786" opacity="0.75"/>
<line x1="743.2" y1="409.3" x2="743.2" y2="466.5" stroke="#f04a1c" stroke-width="1.4321074392936566" opacity="0.75"/>
<rect x="757.9" y="407.3" width="8.9" height="59.2" fill="#e3431c" opacity="0.2185784360136489" />
<polyline points="757.9,466.5 757.9,407.3 766.8,407.6 766.8,466.5" fill="none" stroke="#e3431c" stroke-width="1.3" stroke-linejoin="round" opacity="0.85"/>
<rect x="777.3" y="405" width="5.2" height="61.5" fill="#e3431c" opacity="0.12313591348152364" />
<polyline points="777.3,466.5 777.3,405 782.5,407.4 782.5,466.5" fill="none" stroke="#e3431c" stroke-width="1.3" stroke-linejoin="round" opacity="0.85"/>
<rect x="790.6" y="404.3" width="7.8" height="62.2" fill="#e3431c" opacity="0.1085025647439902" />
<polyline points="790.6,466.5 790.6,404.3 798.4,403.9 798.4,466.5" fill="none" stroke="#e3431c" stroke-width="1.3" stroke-linejoin="round" opacity="0.85"/>
<line x1="793.6" y1="435.4" x2="793.6" y2="466.5" stroke="#f04a1c" stroke-width="1.5270058044902095" opacity="0.75"/>
<rect x="807" y="413.9" width="6.8" height="52.6" fill="#e3431c" opacity="0.1804783065382825" />
<polyline points="807,466.5 807,413.9 813.7,414.7 813.7,466.5" fill="none" stroke="#e3431c" stroke-width="1.3" stroke-linejoin="round" opacity="0.85"/>
<line x1="810.9" y1="420.9" x2="810.9" y2="466.5" stroke="#f04a1c" stroke-width="2.415197516831372" opacity="0.75"/>
<line x1="810" y1="422.1" x2="810" y2="466.5" stroke="#f04a1c" stroke-width="1.65266747800537" opacity="0.75"/>
<rect x="822.3" y="401.4" width="8.2" height="65.1" fill="#e3431c" opacity="0.09696391359097606" />
<polyline points="822.3,466.5 822.3,401.4 830.5,400.4 830.5,466.5" fill="none" stroke="#e3431c" stroke-width="1.3" stroke-linejoin="round" opacity="0.85"/>
<line x1="826.5" y1="410.7" x2="826.5" y2="466.5" stroke="#f04a1c" stroke-width="2.2566289870771215" opacity="0.75"/>
<rect x="843.4" y="413.1" width="7.6" height="53.4" fill="#e3431c" opacity="0.21596277385661725" />
<polyline points="843.4,466.5 843.4,413.1 851,414.4 851,466.5" fill="none" stroke="#e3431c" stroke-width="1.3" stroke-linejoin="round" opacity="0.85"/>
<line x1="844.6" y1="413.1" x2="844.6" y2="466.5" stroke="#f04a1c" stroke-width="1.4649827760619178" opacity="0.75"/>
<line x1="850.8" y1="429.1" x2="850.8" y2="466.5" stroke="#f04a1c" stroke-width="1.3425291942837991" opacity="0.75"/>
<rect x="865.5" y="404.6" width="2.9" height="61.9" fill="#e3431c" opacity="0.21741324561633962" />
<polyline points="865.5,466.5 865.5,404.6 868.4,406.4 868.4,466.5" fill="none" stroke="#e3431c" stroke-width="1.3" stroke-linejoin="round" opacity="0.85"/>
<line x1="866.8" y1="407.8" x2="866.8" y2="466.5" stroke="#f04a1c" stroke-width="2.0931732079085967" opacity="0.75"/>
<line x1="865.8" y1="408.3" x2="865.8" y2="466.5" stroke="#f04a1c" stroke-width="1.7436776999345636" opacity="0.75"/>
<rect x="871.8" y="414.8" width="5.6" height="51.7" fill="#e3431c" opacity="0.17095029619032404" />
<polyline points="871.8,466.5 871.8,414.8 877.4,414.8 877.4,466.5" fill="none" stroke="#e3431c" stroke-width="1.3" stroke-linejoin="round" opacity="0.85"/>
<line x1="874.4" y1="405.7" x2="874.4" y2="466.5" stroke="#f04a1c" stroke-width="2.0451922910923996" opacity="0.75"/>
<line x1="874.1" y1="429.6" x2="874.1" y2="466.5" stroke="#f04a1c" stroke-width="2.471205443099498" opacity="0.75"/>
<rect x="885.6" y="413.7" width="7.2" height="52.8" fill="#e3431c" opacity="0.1273847685408515" />
<polyline points="885.6,466.5 885.6,413.7 892.8,412.1 892.8,466.5" fill="none" stroke="#e3431c" stroke-width="1.3" stroke-linejoin="round" opacity="0.85"/>
<line x1="890.5" y1="425.7" x2="890.5" y2="466.5" stroke="#f04a1c" stroke-width="1.835463772755417" opacity="0.75"/>
<rect x="899.5" y="397.4" width="7.7" height="69.1" fill="#e3431c" opacity="0.12713286428737178" />
<polyline points="899.5,466.5 899.5,397.4 907.2,399.1 907.2,466.5" fill="none" stroke="#e3431c" stroke-width="1.3" stroke-linejoin="round" opacity="0.85"/>
<line x1="901.4" y1="416.9" x2="901.4" y2="466.5" stroke="#f04a1c" stroke-width="1.8372722627782838" opacity="0.75"/>
<rect x="917.6" y="411.9" width="5.7" height="54.6" fill="#e3431c" opacity="0.20883158072589975" />
<polyline points="917.6,466.5 917.6,411.9 923.3,410 923.3,466.5" fill="none" stroke="#e3431c" stroke-width="1.3" stroke-linejoin="round" opacity="0.85"/>
<line x1="922.1" y1="415.5" x2="922.1" y2="466.5" stroke="#f04a1c" stroke-width="1.8857762297352307" opacity="0.75"/>
<line x1="923.2" y1="401.5" x2="923.2" y2="466.5" stroke="#f04a1c" stroke-width="1.9607038803773678" opacity="0.75"/>
<rect x="928.2" y="418.5" width="9" height="48" fill="#e3431c" opacity="0.14307519596601426" />
<polyline points="928.2,466.5 928.2,418.5 937.3,416.1 937.3,466.5" fill="none" stroke="#e3431c" stroke-width="1.3" stroke-linejoin="round" opacity="0.85"/>
<line x1="933.1" y1="428.7" x2="933.1" y2="466.5" stroke="#f04a1c" stroke-width="1.9170676262866633" opacity="0.75"/>
<line x1="934" y1="433.2" x2="934" y2="466.5" stroke="#f04a1c" stroke-width="1.9303635782002848" opacity="0.75"/>
<line x1="932" y1="437.9" x2="932" y2="466.5" stroke="#f04a1c" stroke-width="1.49412518133513" opacity="0.75"/>
<rect x="948.5" y="414.1" width="5.5" height="52.4" fill="#e3431c" opacity="0.07958314028871831" />
<polyline points="948.5,466.5 948.5,414.1 954,417 954,466.5" fill="none" stroke="#e3431c" stroke-width="1.3" stroke-linejoin="round" opacity="0.85"/>
<line x1="952" y1="410.1" x2="952" y2="466.5" stroke="#f04a1c" stroke-width="1.7345713701811274" opacity="0.75"/>
<line x1="948.8" y1="403" x2="948.8" y2="466.5" stroke="#f04a1c" stroke-width="2.481609924053892" opacity="0.75"/>
<rect x="964.6" y="409.5" width="8.1" height="57" fill="#e3431c" opacity="0.07748135593465244" />
<polyline points="964.6,466.5 964.6,409.5 972.6,408.3 972.6,466.5" fill="none" stroke="#e3431c" stroke-width="1.3" stroke-linejoin="round" opacity="0.85"/>
<line x1="972.2" y1="421.1" x2="972.2" y2="466.5" stroke="#f04a1c" stroke-width="1.5064784660333568" opacity="0.75"/>
<line x1="971" y1="415.7" x2="971" y2="466.5" stroke="#f04a1c" stroke-width="1.4968178870554767" opacity="0.75"/>
<line x1="965.6" y1="431.1" x2="965.6" y2="466.5" stroke="#f04a1c" stroke-width="2.333401376886301" opacity="0.75"/>
<rect x="983.3" y="409.1" width="6.2" height="57.4" fill="#e3431c" opacity="0.09615788914518275" />
<polyline points="983.3,466.5 983.3,409.1 989.5,411.8 989.5,466.5" fill="none" stroke="#e3431c" stroke-width="1.3" stroke-linejoin="round" opacity="0.85"/>
<line x1="987.4" y1="433.2" x2="987.4" y2="466.5" stroke="#f04a1c" stroke-width="2.3133595507044404" opacity="0.75"/>
<line x1="985.8" y1="439.8" x2="985.8" y2="466.5" stroke="#f04a1c" stroke-width="2.2638431025115757" opacity="0.75"/>
<rect x="1000.3" y="406.7" width="9" height="59.8" fill="#e3431c" opacity="0.18537495476087287" />
<polyline points="1000.3,466.5 1000.3,406.7 1009.3,405.1 1009.3,466.5" fill="none" stroke="#e3431c" stroke-width="1.3" stroke-linejoin="round" opacity="0.85"/>
<line x1="1006.5" y1="439.3" x2="1006.5" y2="466.5" stroke="#f04a1c" stroke-width="2.1503460605460822" opacity="0.75"/>
<line x1="1004.6" y1="432.2" x2="1004.6" y2="466.5" stroke="#f04a1c" stroke-width="2.318478111875775" opacity="0.75"/>
<line x1="1003.5" y1="426.2" x2="1003.5" y2="466.5" stroke="#f04a1c" stroke-width="1.648448718125895" opacity="0.75"/>
<rect x="1018.1" y="397.1" width="7.6" height="69.4" fill="#e3431c" opacity="0.20352217240623424" />
<polyline points="1018.1,466.5 1018.1,397.1 1025.7,395.1 1025.7,466.5" fill="none" stroke="#e3431c" stroke-width="1.3" stroke-linejoin="round" opacity="0.85"/>
<line x1="1024.6" y1="402.3" x2="1024.6" y2="466.5" stroke="#f04a1c" stroke-width="2.359059828448482" opacity="0.75"/>
<line x1="1025" y1="431.4" x2="1025" y2="466.5" stroke="#f04a1c" stroke-width="1.3965623940744023" opacity="0.75"/>
<rect x="1038.7" y="395.4" width="7.7" height="71.1" fill="#e3431c" opacity="0.06183664942949946" />
<polyline points="1038.7,466.5 1038.7,395.4 1046.4,398.1 1046.4,466.5" fill="none" stroke="#e3431c" stroke-width="1.3" stroke-linejoin="round" opacity="0.85"/>
<line x1="1040.6" y1="404.1" x2="1040.6" y2="466.5" stroke="#f04a1c" stroke-width="1.39982557293656" opacity="0.75"/>
<line x1="1040.5" y1="431.1" x2="1040.5" y2="466.5" stroke="#f04a1c" stroke-width="1.6850217066618745" opacity="0.75"/>
<rect x="1051.2" y="414.8" width="10.1" height="51.7" fill="#e3431c" opacity="0.08686604214848681" />
<polyline points="1051.2,466.5 1051.2,414.8 1061.4,417.1 1061.4,466.5" fill="none" stroke="#e3431c" stroke-width="1.3" stroke-linejoin="round" opacity="0.85"/>
<rect x="1072.4" y="414.7" width="10" height="51.8" fill="#e3431c" opacity="0.19420848285799475" />
<polyline points="1072.4,466.5 1072.4,414.7 1082.4,412.9 1082.4,466.5" fill="none" stroke="#e3431c" stroke-width="1.3" stroke-linejoin="round" opacity="0.85"/>
<line x1="1077.7" y1="429.7" x2="1077.7" y2="466.5" stroke="#f04a1c" stroke-width="1.8140206317582719" opacity="0.75"/>
<rect x="1096" y="401.6" width="7" height="64.9" fill="#e3431c" opacity="0.09746811965352759" />
<polyline points="1096,466.5 1096,401.6 1103,399.4 1103,466.5" fill="none" stroke="#e3431c" stroke-width="1.3" stroke-linejoin="round" opacity="0.85"/>
<line x1="1099.9" y1="419.4" x2="1099.9" y2="466.5" stroke="#f04a1c" stroke-width="2.467648674563983" opacity="0.75"/>
<line x1="1100.9" y1="409.9" x2="1100.9" y2="466.5" stroke="#f04a1c" stroke-width="1.4304629426848872" opacity="0.75"/>
<line x1="1100.2" y1="429.4" x2="1100.2" y2="466.5" stroke="#f04a1c" stroke-width="1.4245003698548264" opacity="0.75"/>
<polyline points="545,407.2 547,406 549,404.8 551,405.8 553,405.6 555,409 557,407.1 559,404.1" fill="none" stroke="#e3431c" stroke-width="1.2" stroke-linejoin="round" opacity="0.7"/>
<polyline points="640,405.2 642,406.9 644,403.1 646,403.3 648,407.4 650,409 652,407.9 654,403.6 656,405.9 658,407.5" fill="none" stroke="#e3431c" stroke-width="1.2" stroke-linejoin="round" opacity="0.7"/>
<polyline points="730,403.9 732,404.3 734,405.5 736,403.8 738,403.6 740,407 742,405 744,407.7" fill="none" stroke="#e3431c" stroke-width="1.2" stroke-linejoin="round" opacity="0.7"/>
<polyline points="790,406.3 792,408.5 794,404.7 796,405.1 798,404.5 800,403.3 802,404.7 804,405.1" fill="none" stroke="#e3431c" stroke-width="1.2" stroke-linejoin="round" opacity="0.7"/>
<polyline points="870,406 872,405 874,408.9 876,408.2 878,405.1 880,404.2 882,406 884,403.7" fill="none" stroke="#e3431c" stroke-width="1.2" stroke-linejoin="round" opacity="0.7"/>
<polyline points="935,404.2 937,407.3 939,403.8 941,408.8 943,403.5 945,409 947,405.4 949,406.3" fill="none" stroke="#e3431c" stroke-width="1.2" stroke-linejoin="round" opacity="0.7"/>
<polyline points="1000,405.4 1002,406.4 1004,405.4 1006,403.7 1008,403.3 1010,407.9 1012,405.9 1014,407.6" fill="none" stroke="#e3431c" stroke-width="1.2" stroke-linejoin="round" opacity="0.7"/>
<polyline points="1060,403.4 1062,406 1064,406.3 1066,405.3 1068,403.9 1070,407 1072,407.1 1074,408.3" fill="none" stroke="#e3431c" stroke-width="1.2" stroke-linejoin="round" opacity="0.7"/>
<rect x="843" y="374" width="40" height="9" fill="none" stroke="#e3431c" stroke-width="1" opacity="0.7"/>
<rect x="1008" y="381" width="32" height="10" fill="none" stroke="#e3431c" stroke-width="1" opacity="0.7"/>
<rect x="988" y="368" width="57" height="8" fill="none" stroke="#e3431c" stroke-width="1" opacity="0.7"/>
<rect x="1070" y="385" width="28" height="7" fill="none" stroke="#e3431c" stroke-width="1" opacity="0.7"/>
<polyline points="516,433 516,433 527.2,433 527.2,433 555.9,433 555.9,433 585.9,433 585.9,441 608.5,441 608.5,433 646.4,433 646.4,433 682.6,433 682.6,433 701.9,433 701.9,441 737.7,441 737.7,433 748.8,433 748.8,433 775.7,433 775.7,433 813.2,433 813.2,433 838.8,433 838.8,441 872,441 872,433 902.9,433 902.9,433 914.9,433 914.9,433 942.7,433 942.7,441 972.5,441 972.5,433 1005.6,433 1005.6,433 1018.1,433 1018.1,433 1055,433 1055,433 1077.8,433 1077.8,433 1107.9,433" fill="none" stroke="#7a2aa8" stroke-width="1.6" stroke-linejoin="round" opacity="0.75"/>
<line x1="540" y1="440" x2="540" y2="466" stroke="#d040b0" stroke-width="1.5" opacity="0.6"/>
<line x1="575" y1="440" x2="575" y2="466" stroke="#d040b0" stroke-width="1.5" opacity="0.6"/>
<line x1="610" y1="440" x2="610" y2="466" stroke="#d040b0" stroke-width="1.5" opacity="0.6"/>
<line x1="690" y1="440" x2="690" y2="466" stroke="#d040b0" stroke-width="1.5" opacity="0.6"/>
<line x1="770" y1="440" x2="770" y2="466" stroke="#d040b0" stroke-width="1.5" opacity="0.6"/>
<line x1="840" y1="440" x2="840" y2="466" stroke="#d040b0" stroke-width="1.5" opacity="0.6"/>
<line x1="905" y1="440" x2="905" y2="466" stroke="#d040b0" stroke-width="1.5" opacity="0.6"/>
<line x1="990" y1="440" x2="990" y2="466" stroke="#d040b0" stroke-width="1.5" opacity="0.6"/>
<line x1="1045" y1="440" x2="1045" y2="466" stroke="#d040b0" stroke-width="1.5" opacity="0.6"/>
<polyline points="720,450 760,450 800,452 830,452" fill="none" stroke="#b48a2a" stroke-width="1.2" stroke-linejoin="round" opacity="0.8"/>
<polyline points="960,455 1000,452 1020,450" fill="none" stroke="#b48a2a" stroke-width="1.2" stroke-linejoin="round" opacity="0.8"/>
<polyline points="1114,466.5 1340,466.5" fill="none" stroke="#e3431c" stroke-width="1.2" stroke-linejoin="round" opacity="0.5"/>
<polyline points="1127,466 1130,443 1133,444.3 1136,444.1 1139,443 1142,442.9 1145,443.5 1148,443.1 1151,443.6 1154,443.4 1157,443.9 1160,444.2 1163,443.3 1166,443.9 1169,443.8 1172,442.9 1175,443.9 1178,443.2 1181,443.6 1184,443.5 1187,443.8 1190,444.1 1193,444.2 1196,442.8 1199,442.8 1202,442.8 1205,444.1 1208,443.8 1211,443.7 1214,443.3 1217,443.2 1220,443.7 1223,444.2 1226,444 1229,443.7 1232,443.2 1235,444.2 1238,443.9 1241,443.5 1244,443 1247,444.2 1250,442.9 1253,444.2 1256,443 1259,444 1262,443.5 1265,443.9 1268,443.4 1271,443.1 1274,443.9 1277,443.2 1280,443.1 1283,443.7 1286,443.7 1289,444 1292,443.7 1295,444.1 1298,443.9 1301,442.7 1304,442.9 1304,443" fill="none" stroke="#9b30c8" stroke-width="1.6" stroke-linejoin="round"/>
<rect x="1306" y="447" width="2.5" height="22" fill="#9b30c8" opacity="0.85" />
<rect x="1311" y="445.5" width="2.5" height="22" fill="#9b30c8" opacity="0.85" />
<rect x="1316" y="447.9" width="2.5" height="22" fill="#9b30c8" opacity="0.85" />
<rect x="1322" y="443.5" width="2.5" height="22" fill="#9b30c8" opacity="0.85" />
<rect x="1327" y="444.3" width="2.5" height="22" fill="#9b30c8" opacity="0.85" />
<rect x="1333" y="444.3" width="2.5" height="22" fill="#9b30c8" opacity="0.85" />
<rect x="1338" y="446.6" width="2.5" height="22" fill="#9b30c8" opacity="0.85" />
<line x1="1120" y1="466" x2="1120" y2="427" stroke="#e3431c" stroke-width="1.3" opacity="0.8"/>
<line x1="1136" y1="466" x2="1136" y2="433.5" stroke="#e3431c" stroke-width="1.3" opacity="0.8"/>
<line x1="1141" y1="466" x2="1141" y2="440.7" stroke="#e3431c" stroke-width="1.3" opacity="0.8"/>
<line x1="1146" y1="466" x2="1146" y2="429.6" stroke="#e3431c" stroke-width="1.3" opacity="0.8"/>
<line x1="258" y1="468" x2="258" y2="537" stroke="#5a5a70" stroke-width="1.2" opacity="0.8"/>
<line x1="372" y1="517" x2="372" y2="537" stroke="#5a5a70" stroke-width="1.2" opacity="0.8"/>
<line x1="489" y1="517" x2="489" y2="537" stroke="#6a6a80" stroke-width="1.2" opacity="0.8"/>
<line x1="545" y1="517" x2="545" y2="537" stroke="#6a6a80" stroke-width="1.2" opacity="0.8"/>
<line x1="732" y1="517" x2="732" y2="537" stroke="#5050a0" stroke-width="1.2" opacity="0.8"/>
<line x1="1010" y1="517" x2="1010" y2="537" stroke="#7a7a90" stroke-width="1.2" opacity="0.8"/>
<line x1="1045" y1="518" x2="1045" y2="535" stroke="#2040ff" stroke-width="1.5" opacity="0.8"/>
<line x1="1049" y1="518" x2="1049" y2="535" stroke="#e04040" stroke-width="1.5" opacity="0.8"/>
<line x1="1055" y1="518" x2="1055" y2="535" stroke="#4050ff" stroke-width="1.5" opacity="0.8"/>
<line x1="1061" y1="518" x2="1061" y2="535" stroke="#e04050" stroke-width="1.5" opacity="0.8"/>
<line x1="1066" y1="518" x2="1066" y2="535" stroke="#c03030" stroke-width="1.5" opacity="0.8"/>
<line x1="1072" y1="518" x2="1072" y2="535" stroke="#d04040" stroke-width="1.5" opacity="0.8"/>
<line x1="1144" y1="518" x2="1144" y2="535" stroke="#c0a0b0" stroke-width="1.5" opacity="0.8"/>
<line x1="1170" y1="518" x2="1170" y2="535" stroke="#c03030" stroke-width="1.5" opacity="0.8"/>
<line x1="1178" y1="518" x2="1178" y2="535" stroke="#c03030" stroke-width="1.5" opacity="0.8"/>
<line x1="1203" y1="518" x2="1203" y2="535" stroke="#c0a0b0" stroke-width="1.5" opacity="0.8"/>
<line x1="1212" y1="518" x2="1212" y2="535" stroke="#c03030" stroke-width="1.5" opacity="0.8"/>
<line x1="1222" y1="518" x2="1222" y2="535" stroke="#3040e0" stroke-width="1.5" opacity="0.8"/>
<line x1="1226" y1="518" x2="1226" y2="535" stroke="#c03030" stroke-width="1.5" opacity="0.8"/>
<line x1="1232" y1="518" x2="1232" y2="535" stroke="#3040e0" stroke-width="1.5" opacity="0.8"/>
<line x1="1245" y1="518" x2="1245" y2="535" stroke="#3040e0" stroke-width="1.5" opacity="0.8"/>
<line x1="1250" y1="518" x2="1250" y2="535" stroke="#c03030" stroke-width="1.5" opacity="0.8"/>
<line x1="1270" y1="518" x2="1270" y2="535" stroke="#b080a0" stroke-width="1.5" opacity="0.8"/>
<line x1="1278" y1="518" x2="1278" y2="535" stroke="#3040e0" stroke-width="1.5" opacity="0.8"/>
<rect x="143" y="544" width="25" height="87" fill="#e18a2a" opacity="0.95" />
<line x1="146" y1="547.6" x2="146" y2="628" stroke="#6a4020" stroke-width="0.7258243536153018" opacity="0.55"/>
<line x1="150.8" y1="550.6" x2="150.8" y2="628" stroke="#6a4020" stroke-width="1.226472229017595" opacity="0.55"/>
<line x1="154" y1="546.8" x2="154" y2="628" stroke="#6a4020" stroke-width="1.312489979667694" opacity="0.55"/>
<line x1="159" y1="546.9" x2="159" y2="628" stroke="#6a4020" stroke-width="1.3802962592314632" opacity="0.55"/>
<line x1="163.5" y1="549.3" x2="163.5" y2="628" stroke="#6a4020" stroke-width="1.2216361159905746" opacity="0.55"/>
<rect x="144" y="576" width="23" height="24" fill="#f3d2ad" opacity="0.55" />
<rect x="144" y="578.3" width="1.6" height="18" fill="#fbe6cc" opacity="0.6" />
<rect x="147" y="578.3" width="1.6" height="18" fill="#fbe6cc" opacity="0.6" />
<rect x="150" y="577.9" width="1.6" height="18" fill="#fbe6cc" opacity="0.6" />
<rect x="153" y="577.1" width="1.6" height="18" fill="#fbe6cc" opacity="0.6" />
<rect x="156" y="580.3" width="1.6" height="18" fill="#fbe6cc" opacity="0.6" />
<rect x="159" y="579.8" width="1.6" height="18" fill="#fbe6cc" opacity="0.6" />
<rect x="162" y="581.9" width="1.6" height="18" fill="#fbe6cc" opacity="0.6" />
<rect x="165" y="576.5" width="1.6" height="18" fill="#fbe6cc" opacity="0.6" />
<polygon points="143,643 143,614.9 144.5,620.3 146,625.3 147.5,628.8 149,623.4 150.5,614.1 152,620.2 153.5,622.6 155,622.6 156.5,619.7 158,615 159.5,620.4 161,622.3 162.5,618.2 164,627.3 165.5,619.1 167,622.1 168,643" fill="#63b322" opacity="0.95"/>
<rect x="187" y="544" width="14" height="87" fill="#e18a2a" opacity="0.95" />
<line x1="190" y1="547.2" x2="190" y2="628" stroke="#6a4020" stroke-width="0.7701549183864237" opacity="0.55"/>
<line x1="192.7" y1="550.8" x2="192.7" y2="628" stroke="#6a4020" stroke-width="0.8318371079136476" opacity="0.55"/>
<line x1="196.7" y1="548.2" x2="196.7" y2="628" stroke="#6a4020" stroke-width="1.223710844023331" opacity="0.55"/>
<rect x="188" y="576" width="12" height="24" fill="#f3d2ad" opacity="0.55" />
<rect x="188" y="576" width="1.6" height="18" fill="#fbe6cc" opacity="0.6" />
<rect x="191" y="581.4" width="1.6" height="18" fill="#fbe6cc" opacity="0.6" />
<rect x="194" y="577.9" width="1.6" height="18" fill="#fbe6cc" opacity="0.6" />
<rect x="197" y="580.9" width="1.6" height="18" fill="#fbe6cc" opacity="0.6" />
<polygon points="187,643 187,619.9 188.5,621.4 190,615.3 191.5,619.1 193,614.5 194.5,618.5 196,623.7 197.5,615.5 199,617.3 200.5,627.9 201,643" fill="#63b322" opacity="0.95"/>
<rect x="219" y="544" width="51" height="87" fill="#e18a2a" opacity="0.95" />
<line x1="222" y1="549.4" x2="222" y2="628" stroke="#6a4020" stroke-width="1.0693687711190218" opacity="0.55"/>
<line x1="225" y1="551.6" x2="225" y2="628" stroke="#6a4020" stroke-width="0.8238595928308365" opacity="0.55"/>
<line x1="227.8" y1="548.7" x2="227.8" y2="628" stroke="#6a4020" stroke-width="1.074496131055538" opacity="0.55"/>
<line x1="231.8" y1="546.8" x2="231.8" y2="628" stroke="#6a4020" stroke-width="1.2749973657004268" opacity="0.55"/>
<line x1="235.1" y1="552" x2="235.1" y2="628" stroke="#6a4020" stroke-width="0.9025616173962138" opacity="0.55"/>
<line x1="237.7" y1="546.2" x2="237.7" y2="628" stroke="#6a4020" stroke-width="0.8957066409031564" opacity="0.55"/>
<line x1="242" y1="548.9" x2="242" y2="628" stroke="#6a4020" stroke-width="1.2764844889039975" opacity="0.55"/>
<line x1="246.7" y1="551.2" x2="246.7" y2="628" stroke="#6a4020" stroke-width="1.1118736588799756" opacity="0.55"/>
<line x1="251.5" y1="550.2" x2="251.5" y2="628" stroke="#6a4020" stroke-width="0.6719657019209486" opacity="0.55"/>
<line x1="254.8" y1="547.4" x2="254.8" y2="628" stroke="#6a4020" stroke-width="0.6718266007686854" opacity="0.55"/>
<line x1="259.6" y1="549" x2="259.6" y2="628" stroke="#6a4020" stroke-width="0.7461362269422019" opacity="0.55"/>
<line x1="264.2" y1="548.2" x2="264.2" y2="628" stroke="#6a4020" stroke-width="0.7881028890115961" opacity="0.55"/>
<rect x="220" y="576" width="49" height="24" fill="#f3d2ad" opacity="0.55" />
<rect x="220" y="575.4" width="1.6" height="18" fill="#fbe6cc" opacity="0.6" />
<rect x="223" y="581.5" width="1.6" height="18" fill="#fbe6cc" opacity="0.6" />
<rect x="226" y="581.5" width="1.6" height="18" fill="#fbe6cc" opacity="0.6" />
<rect x="229" y="574.5" width="1.6" height="18" fill="#fbe6cc" opacity="0.6" />
<rect x="232" y="578.4" width="1.6" height="18" fill="#fbe6cc" opacity="0.6" />
<rect x="235" y="574.2" width="1.6" height="18" fill="#fbe6cc" opacity="0.6" />
<rect x="238" y="581.4" width="1.6" height="18" fill="#fbe6cc" opacity="0.6" />
<rect x="241" y="576.1" width="1.6" height="18" fill="#fbe6cc" opacity="0.6" />
<rect x="244" y="578.1" width="1.6" height="18" fill="#fbe6cc" opacity="0.6" />
<rect x="247" y="579.9" width="1.6" height="18" fill="#fbe6cc" opacity="0.6" />
<rect x="250" y="580.1" width="1.6" height="18" fill="#fbe6cc" opacity="0.6" />
<rect x="253" y="577.9" width="1.6" height="18" fill="#fbe6cc" opacity="0.6" />
<rect x="256" y="574.8" width="1.6" height="18" fill="#fbe6cc" opacity="0.6" />
<rect x="259" y="576.5" width="1.6" height="18" fill="#fbe6cc" opacity="0.6" />
<rect x="262" y="574" width="1.6" height="18" fill="#fbe6cc" opacity="0.6" />
<rect x="265" y="575.6" width="1.6" height="18" fill="#fbe6cc" opacity="0.6" />
<rect x="268" y="580" width="1.6" height="18" fill="#fbe6cc" opacity="0.6" />
<polygon points="219,643 219,623.4 220.5,621.1 222,624.4 223.5,621.5 225,619.9 226.5,620.2 228,620 229.5,620.1 231,621.1 232.5,626.9 234,628.6 235.5,628.3 237,621.5 238.5,628.6 240,626.8 241.5,616.5 243,627.3 244.5,615.2 246,623.9 247.5,620 249,626 250.5,626.5 252,629.3 253.5,628.8 255,620.2 256.5,614.3 258,615.2 259.5,629.6 261,619.2 262.5,617.7 264,615.8 265.5,619.9 267,619.3 268.5,625.8 270,643" fill="#63b322" opacity="0.95"/>
<rect x="283" y="544" width="48" height="87" fill="#e18a2a" opacity="0.95" />
<line x1="286" y1="547.1" x2="286" y2="628" stroke="#6a4020" stroke-width="0.961102143248165" opacity="0.55"/>
<line x1="290.7" y1="548.6" x2="290.7" y2="628" stroke="#6a4020" stroke-width="0.7195135907316015" opacity="0.55"/>
<line x1="294.3" y1="547.5" x2="294.3" y2="628" stroke="#6a4020" stroke-width="0.6203360394901462" opacity="0.55"/>
<line x1="298.2" y1="547.8" x2="298.2" y2="628" stroke="#6a4020" stroke-width="1.2433155427443854" opacity="0.55"/>
<line x1="301.3" y1="546.7" x2="301.3" y2="628" stroke="#6a4020" stroke-width="0.9649477237651838" opacity="0.55"/>
<line x1="305.1" y1="546.9" x2="305.1" y2="628" stroke="#6a4020" stroke-width="1.0107661191037471" opacity="0.55"/>
<line x1="309.1" y1="550.7" x2="309.1" y2="628" stroke="#6a4020" stroke-width="1.3401827049920472" opacity="0.55"/>
<line x1="313" y1="551" x2="313" y2="628" stroke="#6a4020" stroke-width="0.6953512862789221" opacity="0.55"/>
<line x1="317.4" y1="551.8" x2="317.4" y2="628" stroke="#6a4020" stroke-width="0.9456475912989433" opacity="0.55"/>
<line x1="320.6" y1="547.4" x2="320.6" y2="628" stroke="#6a4020" stroke-width="0.7905183440301706" opacity="0.55"/>
<line x1="324" y1="548.5" x2="324" y2="628" stroke="#6a4020" stroke-width="0.7297549489586493" opacity="0.55"/>
<line x1="328.6" y1="551.9" x2="328.6" y2="628" stroke="#6a4020" stroke-width="0.7154809354462097" opacity="0.55"/>
<rect x="284" y="576" width="46" height="24" fill="#f3d2ad" opacity="0.55" />
<rect x="284" y="577.5" width="1.6" height="18" fill="#fbe6cc" opacity="0.6" />
<rect x="287" y="578.1" width="1.6" height="18" fill="#fbe6cc" opacity="0.6" />
<rect x="290" y="578.1" width="1.6" height="18" fill="#fbe6cc" opacity="0.6" />
<rect x="293" y="577.5" width="1.6" height="18" fill="#fbe6cc" opacity="0.6" />
<rect x="296" y="580.3" width="1.6" height="18" fill="#fbe6cc" opacity="0.6" />
<rect x="299" y="581.5" width="1.6" height="18" fill="#fbe6cc" opacity="0.6" />
<rect x="302" y="576.3" width="1.6" height="18" fill="#fbe6cc" opacity="0.6" />
<rect x="305" y="576.9" width="1.6" height="18" fill="#fbe6cc" opacity="0.6" />
<rect x="308" y="574.3" width="1.6" height="18" fill="#fbe6cc" opacity="0.6" />
<rect x="311" y="577.3" width="1.6" height="18" fill="#fbe6cc" opacity="0.6" />
<rect x="314" y="576.2" width="1.6" height="18" fill="#fbe6cc" opacity="0.6" />
<rect x="317" y="575.4" width="1.6" height="18" fill="#fbe6cc" opacity="0.6" />
<rect x="320" y="580.7" width="1.6" height="18" fill="#fbe6cc" opacity="0.6" />
<rect x="323" y="578.2" width="1.6" height="18" fill="#fbe6cc" opacity="0.6" />
<rect x="326" y="575.8" width="1.6" height="18" fill="#fbe6cc" opacity="0.6" />
<rect x="329" y="575.4" width="1.6" height="18" fill="#fbe6cc" opacity="0.6" />
<polygon points="283,643 283,623.6 284.5,627.3 286,628.2 287.5,625.7 289,626.2 290.5,616.8 292,616.2 293.5,624.7 295,624.1 296.5,617.1 298,618.9 299.5,614.2 301,625.1 302.5,622.3 304,627.5 305.5,628.7 307,622.3 308.5,619.6 310,618.5 311.5,624.2 313,629.1 314.5,615.4 316,620.6 317.5,626.2 319,616.1 320.5,624.6 322,618 323.5,623 325,629.8 326.5,614.6 328,625.2 329.5,623.2 331,643" fill="#63b322" opacity="0.95"/>
<polyline points="168,627 187,627" fill="none" stroke="#6abd2a" stroke-width="1.5" stroke-linejoin="round"/>
<polyline points="201,627 219,627" fill="none" stroke="#6abd2a" stroke-width="1.5" stroke-linejoin="round"/>
<polyline points="270,627 283,627" fill="none" stroke="#6abd2a" stroke-width="1.5" stroke-linejoin="round"/>
<polyline points="168,636 187,636" fill="none" stroke="#e8901f" stroke-width="1.5" stroke-linejoin="round"/>
<polyline points="201,636 219,636" fill="none" stroke="#e8901f" stroke-width="1.5" stroke-linejoin="round"/>
<polyline points="270,636 283,636" fill="none" stroke="#e8901f" stroke-width="1.5" stroke-linejoin="round"/>
<polyline points="203,545 215,545 216,540 219,540" fill="none" stroke="#e8901f" stroke-width="1.2" stroke-linejoin="round"/>
<polyline points="331,556 336,560 340,575 343,640 346,650 348,580 350,556 353,562 356,600 359,612 365,611 375,610 385,613 395,612 405,625 415,640 425,650 440,651 470,651 476,620 478,567 483,567 490,570 500,572 505,575 512,570" fill="none" stroke="#e8901f" stroke-width="1.6" stroke-linejoin="round"/>
<polyline points="331,628 331,621.7 333,621.9 335,620.1 337,620.5 339,621.8 341,621.7 343,621.8 345,620.2 347,612.1 349,620.3 351,620.2 353,620.3 355,621.1 357,620 359,621.5 361,621.7 363,620.9 365,620.9 367,620.2 369,620.5 371,621.2 373,613.3 375,621.1 377,620.5 379,620.9 381,609.5 383,621.4 385,614.6 387,620.1 389,620.8 391,621.4 393,621.1 395,620.6 397,621.1 399,620.3 401,620.7 403,601.6 405,620.4 407,620.4 409,620.5 411,620.8 413,614.7 415,613 417,621.2 419,621.2 421,601.5 423,603.5 425,605.2 427,614.4 429,621.8 431,620.2 433,621.9 435,621 437,621.8 439,620.5 441,621.5 443,620.9 445,620.4 447,621.1 449,621.8 451,621 453,620.1 455,620.4 457,621.9 459,621.8 461,621.9 463,620.7 465,621.8 467,608.3 469,621.2 471,621.3 473,621.7 475,621.5 477,622 479,621.9 481,603 483,621.2 485,612.8 487,621.8 489,620.5 491,621.3 493,606.2 495,606 497,612.7 499,620.6 501,620.2 503,621.4 505,620.7 507,621.1 509,611.2 511,622 513,620.6 515,621.6" fill="none" stroke="#6abd2a" stroke-width="1.6" stroke-linejoin="round"/>
<polygon points="359,664 359,644.8 360.6,642.2 362.2,652.8 363.8,643.9 365.4,655.4 367,648.9 368.6,642.4 370.2,643.9 371.8,655.5 373.4,654 375,655.2 376.6,638.5 378.2,642.6 379.8,654.1 381.4,643.4 383,647.7 384.6,643.6 386.2,649.2 387.8,645.9 389.4,652.9 391,651.1 392.6,645.7 394.2,646.4 395.8,638.7 397.4,650.2 399,646.2 400.6,638.2 402.2,639.2 403.8,642.1 405.4,645.4 407,647 408.6,649.7 410.2,654.7 411.8,640.8 413.4,641.4 415,645.6 416.6,645.2 418.2,651.8 419.8,654.2 421.4,648.6 423,650.4 424.6,651.4 426.2,639.7 427.8,644.5 429.4,644.6 431,639.4 432.6,643.6 434.2,641.2 435.8,649.8 437.4,643.3 439,644.2 440.6,654.8 442.2,647.2 443.8,655.5 445.4,649.4 447,647.4 448.6,652.7 450.2,641.7 451.8,654.1 453.4,645.4 455,639.1 456.6,648.2 458.2,639.9 459.8,648.3 461.4,649.4 463,651 464.6,650.5 466.2,638.2 467.8,638.1 469.4,650.8 471,648 472.6,654.5 474.2,645.2 475.8,639.8 477.4,638.3 479,638.5 480.6,641.2 482.2,651.8 483.8,648.2 485.4,653.7 487,654.1 488.6,647.3 490.2,640.6 491.8,641.6 493.4,648.8 495,640.6 496.6,647.3 498.2,647.2 499.8,638.5 501.4,639.4 503,655.1 504.6,646.8 506.2,646.4 507.8,645.8 509.4,652.4 511,649.7 512.6,650.3 514.2,648.4 515.8,640.6 516,664" fill="#a9bcc2" opacity="0.9"/>
<polygon points="359,664 359,646.8 360.4,647.5 361.8,642.7 363.2,654.6 364.6,659.2 366,661 367.4,643.3 368.8,645.8 370.2,654.5 371.6,642.4 373,646.4 374.4,649.9 375.8,657.3 377.2,642.9 378.6,643.1 380,646.8 381.4,646.5 382.8,645.2 384.2,653.7 385.6,645.5 387,642.1 388.4,659.3 389.8,651.1 391.2,650.4 392.6,647 394,659.7 395.4,661.6 396.8,643.4 398.2,655.5 399.6,655.5 401,653.7 402.4,650.3 403.8,650 405.2,656.2 406.6,642.4 408,659.4 409.4,643.7 410.8,645.4 412.2,649.6 413.6,642.2 415,659.6 416.4,649.9 417.8,649.3 419.2,648.7 420.6,659.4 422,648.7 423.4,655 424.8,661.2 426.2,650.4 427.6,660.3 429,653.1 430.4,649.7 431.8,651.3 433.2,648.9 434.6,650.7 436,647.6 437.4,642.5 438.8,658.1 440.2,646.8 441.6,644.6 443,645.9 444.4,652.9 445.8,657.7 447.2,653.1 448.6,651.3 450,657.9 451.4,646.8 452.8,649.4 454.2,646.3 455.6,650.1 457,654.6 458.4,653.6 459.8,647.9 461.2,651.5 462.6,646.1 464,659.2 465.4,655.5 466.8,660.8 468.2,662 469.6,653.9 471,650.8 472.4,661.8 473.8,652.7 475.2,650.1 476.6,652.2 478,644.5 479.4,657 480.8,655.6 482.2,643.8 483.6,659 485,656.7 486.4,657.3 487.8,642.6 489.2,656.4 490.6,644.9 492,642.3 493.4,656.2 494.8,655.9 496.2,657.5 497.6,646.6 499,645.8 500.4,659.8 501.8,643.4 503.2,660.3 504.6,658.1 506,657.2 507.4,645.9 508.8,656.4 510.2,643.8 511.6,647.8 513,658.3 514.4,650 515.8,649.1 516,664" fill="#8ae6ee" opacity="0.95"/>
<polygon points="525,664 525,637.5 526.6,638.9 528.2,659.4 529.8,641.8 531.4,652.7 533,643.1 534.6,624.9 536.2,660.9 537.8,653.6 539.4,624.7 541,651.3 542.6,623.8 544.2,633.6 544.4,664" fill="#9fb6bd" opacity="0.85"/>
<polygon points="525,664 525,660.5 526.2,660.3 527.4,659.7 528.6,613.3 529.8,631.5 531,659.6 532.2,657.1 533.4,635.1 534.6,663.8 535.8,624.2 537,660.3 538.2,657.8 539.4,662.7 540.6,653.3 541.8,663.6 543,657.3 544.2,619.6 544.4,664" fill="#88e4ec" opacity="0.95"/>
<polygon points="526.1,646 526.6,615.8 527.1,609.7 528.1,610.6 528.6,646" fill="#68ba26" opacity="0.92"/>
<polygon points="536,646 536.5,596.9 539,596 541.9,600.9 542.4,646" fill="#68ba26" opacity="0.92"/>
<polygon points="531.7,646 532.2,595.4 533,595.4 534.4,604.6 534.9,646" fill="#68ba26" opacity="0.92"/>
<polygon points="544.4,664 544.4,637.6 546,638.3 547.6,653.4 549.2,650.4 550.8,643.5 552.4,652.6 554,643.7 555.6,624.7 557.2,643.3 558.8,629.1 560,664" fill="#9fb6bd" opacity="0.85"/>
<polygon points="544.4,664 544.4,661.9 545.6,656.4 546.8,622.8 548,617.6 549.2,658.8 550.4,640.8 551.6,644.2 552.8,627.8 554,653.9 555.2,659 556.4,660.3 557.6,657.3 558.8,611.6 560,657.3 560,664" fill="#88e4ec" opacity="0.95"/>
<polygon points="546.9,646 547.4,583.9 548.6,579 550.4,587.4 550.9,646" fill="#68ba26" opacity="0.92"/>
<polygon points="560,664 560,624 561.6,650.8 563.2,644.9 564.8,650.1 566.4,624.9 568,630.6 569.6,661.3 571.2,635.9 572.8,657.6 574.4,632 576,637.5 577.6,655.6 579.2,622.3 579.7,664" fill="#9fb6bd" opacity="0.85"/>
<polygon points="560,664 560,636.9 561.2,659.9 562.4,624.8 563.6,659.9 564.8,662.4 566,659.6 567.2,616.9 568.4,635.7 569.6,658.9 570.8,645.7 572,654.9 573.2,655.1 574.4,663.6 575.6,661 576.8,662 578,615.5 579.2,636.4 579.7,664" fill="#88e4ec" opacity="0.95"/>
<polygon points="568.7,646 569.2,597.2 570.2,596.3 571.6,601.5 572.1,646" fill="#68ba26" opacity="0.92"/>
<polygon points="579.7,664 579.7,622.2 581.3,651 582.9,662.1 584.5,640 586.1,623.2 587.7,664" fill="#9fb6bd" opacity="0.85"/>
<polygon points="579.7,664 579.7,636.9 580.9,662 582.1,654.1 583.3,630.5 584.5,613.5 585.7,610.3 586.9,656.5 587.7,664" fill="#88e4ec" opacity="0.95"/>
<polygon points="582.5,646 583,593.7 585.4,592.7 588.3,594.1 588.8,646" fill="#68ba26" opacity="0.92"/>
<polygon points="587.7,664 587.7,622.5 589.3,625.6 590.9,660.2 592.5,655.1 594.1,642.5 595.7,620.3 597.3,653.4 598.9,634.7 600.5,656.8 602.1,629.9 603.7,654.6 605.3,621 606.3,664" fill="#9fb6bd" opacity="0.85"/>
<polygon points="587.7,664 587.7,617.7 588.9,660.3 590.1,663.9 591.3,661.5 592.5,652.9 593.7,653.8 594.9,642.9 596.1,641.4 597.3,618 598.5,638.5 599.7,657.3 600.9,663.9 602.1,657.8 603.3,662 604.5,659.4 605.7,632 606.3,664" fill="#88e4ec" opacity="0.95"/>
<polygon points="601.8,646 602.3,594.2 604.2,592.4 606.6,601.9 607.1,646" fill="#68ba26" opacity="0.92"/>
<polygon points="595.2,646 595.7,597.4 597,594.9 598.7,596.2 599.2,646" fill="#68ba26" opacity="0.92"/>
<polygon points="626.5,664 626.5,625.9 628.1,640.4 629.7,656.6 631.3,628.8 632.9,656.8 634.5,653.5 636.1,637 637.7,640.4 639.3,655.4 640.9,663.9 642.5,658 643.5,664" fill="#9fb6bd" opacity="0.85"/>
<polygon points="626.5,664 626.5,613.6 627.7,644.6 628.9,611.8 630.1,657.1 631.3,612 632.5,639.7 633.7,661.6 634.9,652.9 636.1,621.7 637.3,662.2 638.5,662.5 639.7,621.4 640.9,634.9 642.1,639.3 643.3,662.7 643.5,664" fill="#88e4ec" opacity="0.95"/>
<polygon points="639.5,646 640,591.7 640.8,584.6 642.1,591.3 642.6,646" fill="#68ba26" opacity="0.92"/>
<polygon points="643.5,664 643.5,655.5 645.1,646 646.7,624 648.3,627.1 649.9,638.4 651.5,622.1 653.1,662.9 654.7,628.5 656.3,656.6 657.9,639.3 659.5,645.8 661.1,628.9 662.7,662.6 664.3,641.2 665.5,664" fill="#9fb6bd" opacity="0.85"/>
<polygon points="643.5,664 643.5,617.5 644.7,652.6 645.9,662.7 647.1,658 648.3,654.9 649.5,653.5 650.7,652.9 651.9,631 653.1,608.2 654.3,659.7 655.5,655.9 656.7,655.9 657.9,609.1 659.1,659.3 660.3,615 661.5,639.9 662.7,659.4 663.9,647.5 665.1,663.3 665.5,664" fill="#88e4ec" opacity="0.95"/>
<polygon points="644,646 644.5,601.4 645.6,598.9 647.2,603.1 647.7,646" fill="#68ba26" opacity="0.92"/>
<polygon points="665.5,664 665.5,643.4 667.1,650.3 668.7,657.4 670.3,630 671.9,654.8 673.5,644.2 675.1,663.7 676.7,626.4 678.3,642.8 679.9,650.4 681.5,638.2 683.1,639.8 684.7,630.1 685.9,664" fill="#9fb6bd" opacity="0.85"/>
<polygon points="665.5,664 665.5,655.3 666.7,658.7 667.9,661.7 669.1,614 670.3,624 671.5,645.5 672.7,612.9 673.9,654.5 675.1,618.4 676.3,637.5 677.5,642.8 678.7,639.2 679.9,656.2 681.1,625.7 682.3,616.5 683.5,644 684.7,654.5 685.9,609.1 685.9,664" fill="#88e4ec" opacity="0.95"/>
<polygon points="677.5,646 678,601.9 678.7,598.7 679.8,607.3 680.3,646" fill="#68ba26" opacity="0.92"/>
<polygon points="666.5,646 667,598.5 668.6,591.1 670.7,600.6 671.2,646" fill="#68ba26" opacity="0.92"/>
<polygon points="675.8,646 676.3,588.2 677.2,586.1 678.7,590.4 679.2,646" fill="#68ba26" opacity="0.92"/>
<polygon points="685.9,664 685.9,652.8 687.5,638 689.1,663.9 690.7,658 692.3,662.1 693.9,627.5 695.5,643 695.9,664" fill="#9fb6bd" opacity="0.85"/>
<polygon points="685.9,664 685.9,656 687.1,662.7 688.3,660.2 689.5,626.1 690.7,643.3 691.9,662.6 693.1,661.4 694.3,615.3 695.5,647.8 695.9,664" fill="#88e4ec" opacity="0.95"/>
<polygon points="690,646 690.5,590.2 692.6,582.9 695.2,584.2 695.7,646" fill="#68ba26" opacity="0.92"/>
<polygon points="687.7,646 688.2,595.3 689.7,589.3 691.7,593.9 692.2,646" fill="#68ba26" opacity="0.92"/>
<polygon points="695.9,664 695.9,655.8 697.5,638.6 699.1,654.7 700.7,636.4 702.3,658.8 703.9,651.9 705.5,636.1 707.1,640.4 708.7,662.5 710.3,651.5 711.2,664" fill="#9fb6bd" opacity="0.85"/>
<polygon points="695.9,664 695.9,646.8 697.1,652 698.3,658.5 699.5,629.8 700.7,629.2 701.9,646.3 703.1,663.6 704.3,646.9 705.5,652.9 706.7,608.6 707.9,663.6 709.1,652.6 710.3,646.1 711.2,664" fill="#88e4ec" opacity="0.95"/>
<polygon points="696,646 696.5,603.3 698.4,598.9 700.7,604.4 701.2,646" fill="#68ba26" opacity="0.92"/>
<polygon points="703.7,646 704.2,611.7 706.7,606 709.6,610 710.1,646" fill="#68ba26" opacity="0.92"/>
<polygon points="711.2,664 711.2,655.9 712.8,630.8 714.4,655.7 716,664 717.6,658.5 719.2,627.1 720.8,630.6 722.4,652.8 724,661.8 725.6,645.4 727.2,659.7 727.7,664" fill="#9fb6bd" opacity="0.85"/>
<polygon points="711.2,664 711.2,659.8 712.4,655.8 713.6,608 714.8,642.1 716,659.1 717.2,617.4 718.4,637.7 719.6,660.5 720.8,658.3 722,635.1 723.2,659.5 724.4,654.7 725.6,618.6 726.8,626.9 727.7,664" fill="#88e4ec" opacity="0.95"/>
<polygon points="715.6,646 716.1,604.3 717.7,596.3 719.9,596.9 720.4,646" fill="#68ba26" opacity="0.92"/>
<polygon points="720.7,646 721.2,585.9 722.4,584.6 724.1,588.2 724.6,646" fill="#68ba26" opacity="0.92"/>
<polygon points="719.6,646 720.1,600.6 720.9,599.2 722.3,608.7 722.8,646" fill="#68ba26" opacity="0.92"/>
<polygon points="727.7,664 727.7,638.3 729.3,629 730.9,662.1 732.5,655.7 734.1,630.5 735.7,659.3 737.3,628.5 738.9,627.7 740.5,656.2 742.1,658.9 743.1,664" fill="#9fb6bd" opacity="0.85"/>
<polygon points="727.7,664 727.7,615 728.9,652.1 730.1,657.9 731.3,632.9 732.5,661.6 733.7,658.7 734.9,655.1 736.1,620.3 737.3,663 738.5,655.2 739.7,658.3 740.9,653.1 742.1,663.5 743.1,664" fill="#88e4ec" opacity="0.95"/>
<polygon points="734.7,646 735.2,582.9 736.5,579.4 738.2,583.1 738.7,646" fill="#68ba26" opacity="0.92"/>
<polygon points="735.8,646 736.3,596.2 737.4,591.1 739,599.2 739.5,646" fill="#68ba26" opacity="0.92"/>
<polygon points="743.1,664 743.1,655.4 744.7,645.9 746.3,663.6 747.9,630.4 749.5,629.2 751.1,660.6 752.7,657.4 754.3,662.6 755.9,620.7 757.5,633 759.1,661.8 760.7,656.6 760.9,664" fill="#9fb6bd" opacity="0.85"/>
<polygon points="743.1,664 743.1,625.6 744.3,658.1 745.5,634.8 746.7,624.1 747.9,660.2 749.1,638.8 750.3,612.7 751.5,652.9 752.7,612.1 753.9,661 755.1,610.2 756.3,636.4 757.5,652.7 758.7,624.7 759.9,647.9 760.9,664" fill="#88e4ec" opacity="0.95"/>
<polygon points="755.2,646 755.7,592.8 756.5,588.7 757.7,588.8 758.2,646" fill="#68ba26" opacity="0.92"/>
<polygon points="760.9,664 760.9,627.7 762.5,654.4 764.1,662 765.7,634.3 767.3,650.7 768.9,662.1 770.5,644 772.1,652.8 773.7,657.5 775.3,656.5 776.9,658.2 778.5,664" fill="#9fb6bd" opacity="0.85"/>
<polygon points="760.9,664 760.9,661.6 762.1,663 763.3,610 764.5,658.4 765.7,658.8 766.9,655.3 768.1,619.7 769.3,640.1 770.5,626.2 771.7,625.8 772.9,610.3 774.1,659.7 775.3,662.4 776.5,659.2 777.7,663.1 778.5,664" fill="#88e4ec" opacity="0.95"/>
<polygon points="770.9,646 771.4,590.8 772.3,585.1 773.6,592.6 774.1,646" fill="#68ba26" opacity="0.92"/>
<polygon points="771.8,646 772.3,589.3 773.9,583.1 775.9,590.2 776.4,646" fill="#68ba26" opacity="0.92"/>
<polygon points="767.9,646 768.4,585.2 769.9,584.5 771.8,585 772.3,646" fill="#68ba26" opacity="0.92"/>
<polygon points="778.5,664 778.5,661.7 780.1,632.4 781.7,662.2 783.3,623.7 784.9,656.2 786.5,644.5 788.1,639.8 789.7,628.7 791.3,657.7 792.9,663.2 794.2,664" fill="#9fb6bd" opacity="0.85"/>
<polygon points="778.5,664 778.5,617.2 779.7,621.1 780.9,655.5 782.1,635.8 783.3,653.8 784.5,656 785.7,652.5 786.9,659.9 788.1,659.9 789.3,652.9 790.5,652.2 791.7,643.6 792.9,616 794.1,655.6 794.2,664" fill="#88e4ec" opacity="0.95"/>
<polygon points="784.8,646 785.3,584.6 786,582.5 787.2,591.4 787.7,646" fill="#68ba26" opacity="0.92"/>
<polygon points="788.4,646 788.9,607.8 789.8,607.6 791.3,613.6 791.8,646" fill="#68ba26" opacity="0.92"/>
<polygon points="789.8,646 790.3,613.5 791.5,608.2 793.2,608.7 793.7,646" fill="#68ba26" opacity="0.92"/>
<polygon points="794.2,664 794.2,656.3 795.8,660.4 797.4,661 799,651 800.6,622.7 802.2,642.1 803.8,632.9 805.4,657.2 807,659.1 808.6,658.1 808.8,664" fill="#9fb6bd" opacity="0.85"/>
<polygon points="794.2,664 794.2,656.5 795.4,614.6 796.6,663.3 797.8,662.1 799,627.2 800.2,653.1 801.4,612.7 802.6,658.4 803.8,657.6 805,658.4 806.2,656.4 807.4,656.8 808.6,653.5 808.8,664" fill="#88e4ec" opacity="0.95"/>
<polygon points="801.9,646 802.4,586.4 804,585.7 806,586.7 806.5,646" fill="#68ba26" opacity="0.92"/>
<polygon points="808.8,664 808.8,661.1 810.4,625.9 812,622.4 813.6,661.8 815.2,631.9 816.8,623.1 818.4,623.4 820,626.1 821.6,660.8 822.3,664" fill="#9fb6bd" opacity="0.85"/>
<polygon points="808.8,664 808.8,661.8 810,610.9 811.2,653.2 812.4,661.3 813.6,655.6 814.8,661.1 816,615.3 817.2,663.2 818.4,609.3 819.6,613.9 820.8,654 822,638.8 822.3,664" fill="#88e4ec" opacity="0.95"/>
<polygon points="810.7,646 811.2,596.4 812.1,588.6 813.5,598.6 814,646" fill="#68ba26" opacity="0.92"/>
<polygon points="822.3,664 822.3,633.4 823.9,660.9 825.5,641 827.1,625.6 828.7,643.7 830.3,622.6 831.9,629.8 833.5,663.5 835.1,640.9 836.7,661.6 838.3,645.3 839.9,643.3 841.5,636.5 843,664" fill="#9fb6bd" opacity="0.85"/>
<polygon points="822.3,664 822.3,661.9 823.5,642.8 824.7,663.5 825.9,663.4 827.1,663.6 828.3,618.1 829.5,617.3 830.7,657.5 831.9,657.9 833.1,635.4 834.3,623.7 835.5,639.7 836.7,645.7 837.9,624.2 839.1,659.8 840.3,621.6 841.5,641.5 842.7,608.2 843,664" fill="#88e4ec" opacity="0.95"/>
<polygon points="832.4,646 832.9,609.9 835.3,606.1 838.2,610.2 838.7,646" fill="#68ba26" opacity="0.92"/>
<polygon points="827.3,646 827.8,596.1 828.6,595.5 829.9,599.4 830.4,646" fill="#68ba26" opacity="0.92"/>
<polygon points="843,664 843,650.5 844.6,663.9 846.2,662.5 847.8,657.5 849.4,653 851,630.5 852.6,630.9 854.2,652.1 855.8,654.9 857.4,644.7 857.8,664" fill="#9fb6bd" opacity="0.85"/>
<polygon points="843,664 843,620.3 844.2,662.5 845.4,632.3 846.6,646.7 847.8,652.1 849,612.1 850.2,658.8 851.4,637.5 852.6,647.4 853.8,638.1 855,613.4 856.2,618.1 857.4,658.2 857.8,664" fill="#88e4ec" opacity="0.95"/>
<polygon points="847.8,646 848.3,594.9 850.7,589.6 853.6,595.9 854.1,646" fill="#68ba26" opacity="0.92"/>
<polygon points="847,646 847.5,606.9 849.1,599.6 851.1,604.6 851.6,646" fill="#68ba26" opacity="0.92"/>
<polygon points="857.8,664 857.8,663.7 859.4,661.7 861,635.6 862.6,660.5 864.2,640.4 864.7,664" fill="#9fb6bd" opacity="0.85"/>
<polygon points="857.8,664 857.8,609.4 859,653.6 860.2,643.7 861.4,659.1 862.6,609.9 863.8,661 864.7,664" fill="#88e4ec" opacity="0.95"/>
<polygon points="860.6,646 861.1,591.9 862.9,585.7 865.1,586 865.6,646" fill="#68ba26" opacity="0.92"/>
<polygon points="859.4,646 859.9,588.3 861.2,580.7 863,587.1 863.5,646" fill="#68ba26" opacity="0.92"/>
<polygon points="859.2,646 859.7,596.8 862.2,589.5 865.1,592.8 865.6,646" fill="#68ba26" opacity="0.92"/>
<polygon points="864.7,664 864.7,633.9 866.3,657.5 867.9,625.6 869.5,621.7 871.1,657.3 872.7,645.4 874.3,647.2 875.9,630.1 877.5,627.6 879.1,633.3 880.7,646 880.8,664" fill="#9fb6bd" opacity="0.85"/>
<polygon points="864.7,664 864.7,660.2 865.9,655.8 867.1,626.9 868.3,663.1 869.5,628.1 870.7,653.9 871.9,609.8 873.1,658.4 874.3,641.9 875.5,652.9 876.7,660.6 877.9,661.7 879.1,612.8 880.3,652.1 880.8,664" fill="#88e4ec" opacity="0.95"/>
<polygon points="874.7,646 875.2,596.8 876.8,589.3 879,592 879.5,646" fill="#68ba26" opacity="0.92"/>
<polygon points="867.6,646 868.1,601.6 868.8,595.6 869.9,602.3 870.4,646" fill="#68ba26" opacity="0.92"/>
<polygon points="869.7,646 870.2,584 872.3,581.6 874.9,588 875.4,646" fill="#68ba26" opacity="0.92"/>
<polygon points="880.8,664 880.8,637.7 882.4,641.7 884,663.2 885.6,629.6 887.2,661.3 888.8,652.6 890.4,634.9 892,638.7 893.6,623.7 895.2,650.9 896.8,657 898.4,638.7 900,631.3 900.7,664" fill="#9fb6bd" opacity="0.85"/>
<polygon points="880.8,664 880.8,619 882,639.5 883.2,614 884.4,638.2 885.6,662.8 886.8,637.7 888,634 889.2,613.3 890.4,636.2 891.6,619 892.8,659.2 894,618.9 895.2,654.7 896.4,660.1 897.6,640.1 898.8,660.4 900,662.1 900.7,664" fill="#88e4ec" opacity="0.95"/>
<polygon points="884.3,646 884.8,606 886.2,602.4 888.1,607.5 888.6,646" fill="#68ba26" opacity="0.92"/>
<polygon points="896.3,646 896.8,597.3 898.5,597.1 900.7,602.4 901.2,646" fill="#68ba26" opacity="0.92"/>
<polygon points="900.7,664 900.7,656.8 902.3,663.1 903.9,634.9 905.5,657.8 907.1,627.9 908.7,636.2 910.3,626.2 911.9,661.4 913.5,655.2 915.1,627.7 916.7,651.6 917.5,664" fill="#9fb6bd" opacity="0.85"/>
<polygon points="900.7,664 900.7,663.5 901.9,660 903.1,610.2 904.3,658.4 905.5,618.1 906.7,631 907.9,663.6 909.1,632.7 910.3,659.4 911.5,654 912.7,611.1 913.9,608.7 915.1,639.6 916.3,638.9 917.5,661.1 917.5,664" fill="#88e4ec" opacity="0.95"/>
<polygon points="910.3,646 910.8,613.2 913.2,607.4 916.1,614.6 916.6,646" fill="#68ba26" opacity="0.92"/>
<polygon points="901.5,646 902,585.3 902.9,578.4 904.3,585.6 904.8,646" fill="#68ba26" opacity="0.92"/>
<polygon points="934.1,664 934.1,627.4 935.7,652.3 937.3,647.8 938.9,650.6 940.5,655 942.1,642.5 943.7,651.4 944.5,664" fill="#9fb6bd" opacity="0.85"/>
<polygon points="934.1,664 934.1,653.8 935.3,626.9 936.5,644.5 937.7,627 938.9,613.1 940.1,658.8 941.3,654.5 942.5,652.3 943.7,636.4 944.5,664" fill="#88e4ec" opacity="0.95"/>
<polygon points="936.9,646 937.4,596.8 939.4,590.3 941.8,598.7 942.3,646" fill="#68ba26" opacity="0.92"/>
<polygon points="935,646 935.5,589.5 936,584.8 937,588.6 937.5,646" fill="#68ba26" opacity="0.92"/>
<polygon points="934.2,646 934.7,606.9 936.8,603.2 939.5,603.6 940,646" fill="#68ba26" opacity="0.92"/>
<polygon points="944.5,664 944.5,635 946.1,654.5 947.7,644.8 949.3,659 950.9,653.4 952.5,630.7 954.1,658.3 955.4,664" fill="#9fb6bd" opacity="0.85"/>
<polygon points="944.5,664 944.5,654.4 945.7,659 946.9,636.3 948.1,652.8 949.3,610.2 950.5,656.8 951.7,636.5 952.9,659.8 954.1,626.9 955.3,662.9 955.4,664" fill="#88e4ec" opacity="0.95"/>
<polygon points="947.1,646 947.6,610.7 949.5,603.6 951.9,603.6 952.4,646" fill="#68ba26" opacity="0.92"/>
<polygon points="948.4,646 948.9,591.1 950.9,585.2 953.4,591.7 953.9,646" fill="#68ba26" opacity="0.92"/>
<polygon points="946.2,646 946.7,584.4 949,584.4 951.8,589.1 952.3,646" fill="#68ba26" opacity="0.92"/>
<polygon points="955.4,664 955.4,663.2 957,641.7 958.6,657.8 960.2,631.6 961.8,656.6 963.4,663.4 965,644.7 966.6,652 967.5,664" fill="#9fb6bd" opacity="0.85"/>
<polygon points="955.4,664 955.4,659.4 956.6,658.1 957.8,623.3 959,610.9 960.2,659.8 961.4,658.7 962.6,639.7 963.8,660.5 965,632.6 966.2,660 967.4,616.3 967.5,664" fill="#88e4ec" opacity="0.95"/>
<polygon points="962.1,646 962.6,593.6 964.7,592.7 967.4,599.2 967.9,646" fill="#68ba26" opacity="0.92"/>
<polygon points="967.5,664 967.5,656 969.1,663.7 970.7,629.9 972.3,660.2 973.9,643.8 975.5,655.1 977.1,660.7 978.7,658.5 980.3,641.5 981.9,651 983.5,659.7 985.1,634.6 986.7,655.7 988.3,638.2 989.5,664" fill="#9fb6bd" opacity="0.85"/>
<polygon points="967.5,664 967.5,637.3 968.7,644.5 969.9,636.7 971.1,660.2 972.3,625.2 973.5,615.2 974.7,625.7 975.9,618.1 977.1,656.2 978.3,653.1 979.5,663.8 980.7,645.3 981.9,641.5 983.1,638.1 984.3,655 985.5,652.3 986.7,662.6 987.9,621.1 989.1,639 989.5,664" fill="#88e4ec" opacity="0.95"/>
<polygon points="981.8,646 982.3,588 983.8,581.4 985.9,584.5 986.4,646" fill="#68ba26" opacity="0.92"/>
<polygon points="978.8,646 979.3,602.9 980.5,595.2 982.2,596.8 982.7,646" fill="#68ba26" opacity="0.92"/>
<polygon points="989.5,664 989.5,638.2 991.1,646.3 992.7,662.8 994.3,647.1 995.9,653 997.5,662.7 998.2,664" fill="#9fb6bd" opacity="0.85"/>
<polygon points="989.5,664 989.5,655.1 990.7,647.6 991.9,657.3 993.1,635.6 994.3,638.1 995.5,655.1 996.7,660.3 997.9,655.1 998.2,664" fill="#88e4ec" opacity="0.95"/>
<polygon points="992.5,646 993,603.8 994.7,599 996.9,605.9 997.4,646" fill="#68ba26" opacity="0.92"/>
<polygon points="990.9,646 991.4,580.3 992,580.1 993.2,583.8 993.7,646" fill="#68ba26" opacity="0.92"/>
<polygon points="990.1,646 990.6,601.6 991.4,593.8 992.6,600.7 993.1,646" fill="#68ba26" opacity="0.92"/>
<polygon points="998.2,664 998.2,660.8 999.8,651.4 1001.4,655.7 1003,632.5 1004.6,622.7 1006.2,629.6 1007.8,620.9 1009.1,664" fill="#9fb6bd" opacity="0.85"/>
<polygon points="998.2,664 998.2,617.1 999.4,640.1 1000.6,619.1 1001.8,654.3 1003,614.3 1004.2,631.5 1005.4,615.2 1006.6,653.2 1007.8,623.3 1009,630.8 1009.1,664" fill="#88e4ec" opacity="0.95"/>
<polygon points="998.6,646 999.1,594 1000.2,586.6 1001.8,595.9 1002.3,646" fill="#68ba26" opacity="0.92"/>
<polygon points="1009.1,664 1009.1,657.6 1010.7,655.2 1012.3,630.4 1013.9,659.3 1015.5,645.5 1017.1,660.7 1018.7,620.8 1020.3,644.8 1021.7,664" fill="#9fb6bd" opacity="0.85"/>
<polygon points="1009.1,664 1009.1,642.1 1010.3,662.7 1011.5,652.1 1012.7,656.5 1013.9,655.4 1015.1,657.8 1016.3,658.7 1017.5,656.9 1018.7,663.1 1019.9,625 1021.1,654.3 1021.7,664" fill="#88e4ec" opacity="0.95"/>
<polygon points="1012.2,646 1012.7,612.4 1014.2,608 1016.1,608.7 1016.6,646" fill="#68ba26" opacity="0.92"/>
<polygon points="1011,646 1011.5,603 1013.5,596 1016,605.6 1016.5,646" fill="#68ba26" opacity="0.92"/>
<polygon points="1021.7,664 1021.7,623.1 1023.3,634.7 1024.9,652.4 1026.5,625.9 1028.1,653.7 1029.7,632.9 1031.3,622.1 1032.9,654.4 1034.5,659.3 1035.2,664" fill="#9fb6bd" opacity="0.85"/>
<polygon points="1021.7,664 1021.7,653.4 1022.9,627.3 1024.1,652.1 1025.3,628.6 1026.5,657.6 1027.7,629.5 1028.9,658 1030.1,634 1031.3,661.6 1032.5,637.6 1033.7,622.7 1034.9,615.3 1035.2,664" fill="#88e4ec" opacity="0.95"/>
<polygon points="1021.8,646 1022.3,604.8 1023.7,601.2 1025.7,609.7 1026.2,646" fill="#68ba26" opacity="0.92"/>
<polyline points="516,600 525,600 525.5,571.5 534.8,571.6 535.3,628 544.2,625.4 544.2,625.4 544.7,555.3 549.6,556.7 550.1,633.2 555.1,635.3 555.1,635.3 555.6,565.5 557.1,565.5 580,603.5 580.5,631.3 591.7,633 591.7,633 592.2,571.5 601.3,569.7 601.8,634.4 608.5,635.6 608.5,635.6 609,567.4 623.1,571.3 623.6,646.4 630,647 630,647 630.5,563 643.1,562.8 643.6,630.2 656.2,629.7 656.2,629.7 656.7,572 658.2,572 674,613.6 674.5,634.7 681.1,632.2 681.1,632.2 681.6,567.8 700,569.8 700.5,626.5 708,628 708,628 708.5,566.2 710,566.2 727.2,614.8 727.7,649.1 746.5,646.5 746.5,646.5 747,555.5 748.5,555.5 761.4,606.8 761.9,641.9 770.5,643.1 770.5,643.1 771,560.9 785.4,562.6 785.9,633.1 800.3,633.2 800.3,633.2 800.8,560.7 814.8,560.5 815.3,647.8 825.1,650.5 825.1,650.5 825.6,560.2 841,560 841.5,643 858.1,640.4 858.1,640.4 858.6,556.2 874.7,560.7 875.2,632.2 886,633.8 886,633.8 886.5,569.8 907.3,570.1 907.8,651.3 926.6,648.9 926.6,648.9 927.1,562.9 948.1,561.8 948.6,633.1 964.1,634.4 964.1,634.4 964.6,561.9 975.5,566.9 976,648.4 989.8,646 989.8,646 990.3,569.7 1003.5,572.2 1004,635.6 1015.2,634.6 1015.2,634.6 1015.7,558.9 1029.4,559.1 1029.9,642.8 1046.3,643.9" fill="none" stroke="#e8901f" stroke-width="1.7" stroke-linejoin="round" opacity="0.9"/>
<polyline points="525,620 525,618.6 527.2,623.3 529.4,619.2 531.6,618 533.8,620.1 536,620.4 538.2,617.7 540.4,615.5 542.6,620.1 544.8,635.4 547,618.6 549.2,617.1 551.4,620.3 553.6,606.2 555.8,602.9 558,620.1 560.2,617.1 562.4,599 564.6,616.1 566.8,610.7 569,620 571.2,618.3 573.4,618.1 575.6,617.3 577.8,638.8 580,634.1 582.2,619 584.4,622.2 586.6,620.2 588.8,620.4 591,618.2 593.2,609 595.4,616.3 597.6,601.9 599.8,618.8 602,620.3 604.2,620.3 606.4,618.7 608.6,637 610.8,620.4 613,620 615.2,619.1 617.4,617.2 619.6,617.1 621.8,617.8 624,618.8 626.2,603.3 628.4,621 630.6,617.5 632.8,615.8 635,619.8 637.2,619.8 639.4,618.6 641.6,618.2 643.8,618.3 646,618.3 648.2,617.7 650.4,618 652.6,609.4 654.8,619.9 657,619.7 659.2,618.2 661.4,624.7 663.6,618.7 665.8,631.2 668,618.8 670.2,620.8 672.4,619.8 674.6,620.1 676.8,618.3 679,629.6 681.2,636.5 683.4,633.6 685.6,619.2 687.8,625.8 690,624.6 692.2,619.6 694.4,619.1 696.6,626.4 698.8,619.9 701,635.9 703.2,619.1 705.4,618.3 707.6,619.4 709.8,618 712,620.2 714.2,618.4 716.4,618.8 718.6,617.4 720.8,620.8 723,618.5 725.2,617.7 727.4,620 729.6,617.8 731.8,620 734,619 736.2,619.1 738.4,617.1 740.6,620.3 742.8,620.9 745,618.3 747.2,620.4 749.4,619.6 751.6,595 753.8,618.4 756,618 758.2,596.7 760.4,617.9 762.6,620.5 764.8,618.2 767,618.6 769.2,620.8 771.4,625.4 773.6,620.1 775.8,620.6 778,619.6 780.2,635 782.4,601.8 784.6,619 786.8,618.7 789,618 791.2,619.7 793.4,635.3 795.6,609.4 797.8,620.4 800,620.5 802.2,620.6 804.4,620.4 806.6,620.8 808.8,618.8 811,620.3 813.2,618.4 815.4,600.3 817.6,620.6 819.8,611.7 822,619 824.2,633.7 826.4,618.2 828.6,618.5 830.8,620.5 833,618.3 835.2,620.4 837.4,618.4 839.6,619.4 841.8,620.6 844,615.1 846.2,638 848.4,617.8 850.6,620.7 852.8,620.5 855,619.3 857.2,619.3 859.4,600.9 861.6,617.7 863.8,619.1 866,617.4 868.2,619.4 870.4,611.5 872.6,620 874.8,623.7 877,613.8 879.2,621 881.4,620.9 883.6,620 885.8,634.2 888,618.5 890.2,620.6 892.4,595.8 894.6,620.5 896.8,620.6 899,597.5 901.2,620.6 903.4,619.9 905.6,617.9 907.8,617.6 910,617.6 912.2,617.1 914.4,625.9 916.6,617.9 918.8,619.5 921,629.8 923.2,620.6 925.4,630.2 927.6,617.9 929.8,617.9 932,634.3 934.2,619.9 936.4,615.8 938.6,617.9 940.8,618.7 943,619 945.2,634.1 947.4,620.6 949.6,618.7 951.8,617.7 954,619.2 956.2,619.9 958.4,617.9 960.6,618.4 962.8,618.2 965,618.8 967.2,621.5 969.4,608.3 971.6,620.4 973.8,619.4 976,618.1 978.2,618.9 980.4,619 982.6,618.4 984.8,617.3 987,628 989.2,619.8 991.4,619.6 993.6,620.3 995.8,617.2 998,618.9 1000.2,619.8 1002.4,620.8 1004.6,617.6 1006.8,620 1009,625.9 1011.2,619.7 1013.4,618.3 1015.6,617.9 1017.8,617.6 1020,619.6 1022.2,617.5 1024.4,620.9 1026.6,620.2 1028.8,618.1 1031,617.1 1033.2,620.2" fill="none" stroke="#6abd2a" stroke-width="1.5" stroke-linejoin="round" opacity="0.95"/>
<polygon points="1035,640 1035,555.2 1036.5,568.6 1038,550.6 1039.5,553.6 1041,561.4 1042.5,560.4 1044,566.9 1045.5,548.4 1047,565.6 1048.5,549.5 1050,565.8 1051.5,561.8 1053,548.3 1054.5,567.6 1056,554.3 1057.5,558.9 1059,568.7 1060.5,556.3 1062,549.7 1063.5,552.6 1065,564.2 1066.5,551.1 1068,554.8 1069.5,552.8 1071,557.6 1072.5,550.7 1074,569.4 1075.5,568 1077,550.4 1078.5,551.2 1080,560.1 1081.5,569.4 1082,640" fill="#6cbd2c" opacity="0.95"/>
<rect x="1035" y="548" width="45" height="4" fill="#7fd040" opacity="0.9" />
<line x1="1050" y1="560" x2="1050" y2="640" stroke="#4a9a18" stroke-width="1" opacity="0.6"/>
<line x1="1058" y1="560" x2="1058" y2="640" stroke="#4a9a18" stroke-width="1" opacity="0.6"/>
<line x1="1066" y1="560" x2="1066" y2="640" stroke="#4a9a18" stroke-width="1" opacity="0.6"/>
<line x1="1074" y1="560" x2="1074" y2="640" stroke="#4a9a18" stroke-width="1" opacity="0.6"/>
<rect x="1093" y="615" width="7" height="49" fill="#6aa6b4" opacity="0.85" />
<rect x="1040" y="640" width="2" height="24" fill="#8ae6ee" opacity="0.9" />
<rect x="1058" y="645" width="3" height="19" fill="#8ae6ee" opacity="0.9" />
<rect x="1064" y="650" width="2" height="14" fill="#8ae6ee" opacity="0.9" />
<rect x="1071" y="648" width="3" height="16" fill="#8ae6ee" opacity="0.9" />
<rect x="1076" y="652" width="2" height="12" fill="#8ae6ee" opacity="0.9" />
<polygon points="1127,615 1127,586.4 1128.5,548.9 1130,590.3 1131.5,542.4 1133,569.8 1134.5,583.8 1136,565.3 1137.5,577.8 1139,582.5 1140.5,550.8 1142,547.6 1143.5,558.1 1145,545 1146.5,549.6 1148,542.3 1149.5,559.7 1151,542.6 1152.5,538.3 1154,540.7 1155.5,537.9 1157,538.6 1158.5,539.9 1160,544.5 1161.5,538.6 1163,538 1164.5,543.9 1166,539.6 1167.5,540.3 1169,540.6 1170.5,540.9 1172,537.2 1173.5,542.4 1175,544.2 1176.5,538.3 1178,544.1 1179.5,543.3 1181,542 1182.5,542.2 1184,540.6 1185.5,542 1187,544.2 1188.5,543.3 1190,541.4 1191.5,544.1 1193,537.1 1194.5,540.5 1196,537.2 1197.5,542.1 1199,542.3 1200.5,541.1 1202,538.2 1203.5,537.4 1205,543.3 1206.5,541.1 1208,541 1209.5,542.5 1211,538.3 1212.5,542.2 1214,541 1215.5,544.4 1217,542.6 1218.5,544.5 1220,543.8 1221.5,539.9 1223,542.6 1224.5,538.5 1226,540 1227.5,542.3 1229,539.7 1230.5,540.8 1232,541.6 1233.5,544.8 1235,538.3 1236.5,544.2 1238,538.5 1239.5,544.9 1241,538.7 1242.5,542.3 1244,541.9 1245.5,537 1247,541.6 1248.5,539.6 1250,542.1 1251.5,541.5 1253,543.4 1254.5,539.7 1256,541.6 1257.5,541.4 1259,544.6 1260.5,543.9 1262,544.9 1263.5,540.9 1265,543.6 1266.5,537.4 1268,540.4 1269.5,537.7 1271,540.3 1272.5,539.4 1274,541.1 1275.5,542.6 1277,537 1278.5,541.7 1280,538.1 1281.5,540 1283,544 1284.5,541.8 1286,540.5 1287.5,544.1 1289,543.5 1290,612 1290,626.2 1288.5,595.7 1287,601 1285.5,621.5 1284,599.1 1282.5,605 1281,610.4 1279.5,607.9 1278,607.9 1276.5,608.7 1275,614.2 1273.5,635.9 1272,600.9 1270.5,612.3 1269,613.8 1267.5,612 1266,600.2 1264.5,603.9 1263,617 1261.5,612.7 1260,607 1258.5,596.6 1257,611.8 1255.5,614.1 1254,610.2 1252.5,611.8 1251,598.3 1249.5,599.5 1248,599.5 1246.5,596.2 1245,614.9 1243.5,614.9 1242,624.6 1240.5,614.4 1239,603.3 1237.5,601.3 1236,624.6 1234.5,604.6 1233,598.9 1231.5,605.4 1230,623 1228.5,613.3 1227,604.4 1225.5,606.3 1224,627.4 1222.5,601.6 1221,596.9 1219.5,597.2 1218,605 1216.5,601.6 1215,598.6 1213.5,601.4 1212,614.1 1210.5,602.4 1209,613.8 1207.5,604.6 1206,599 1204.5,608.3 1203,598.8 1201.5,600.9 1200,609.2 1198.5,603.4 1197,596.4 1195.5,608.3 1194,599.7 1192.5,622.2 1191,619.8 1189.5,608.4 1188,614.5 1186.5,622 1185,608.9 1183.5,602 1182,605.7 1180.5,606.5 1179,613.1 1177.5,599.2 1176,606.7 1174.5,614.1 1173,602.7 1171.5,595.5 1170,609 1168.5,611.6 1167,605.3 1165.5,612.4 1164,615.7 1162.5,625.7 1161,602.7 1159.5,602.3 1158,613.4 1156.5,605.9 1155,598 1153.5,634.9 1152,601.2 1150.5,596.9 1149,604.3 1147.5,609.5 1146,597.8 1144.5,595.1 1143,602.1 1141.5,611.7 1140,603.6 1138.5,595.8 1137,614.9 1135.5,639.7 1134,595.8 1132.5,599 1131,610.5 1129.5,601.8 1128,633.9" fill="#6cbd2a" opacity="0.97"/>
<line x1="1141.7" y1="564.5" x2="1141.7" y2="605.6" stroke="#4e9a1c" stroke-width="1" opacity="0.7"/>
<line x1="1238.4" y1="549.3" x2="1238.4" y2="605.1" stroke="#4e9a1c" stroke-width="1" opacity="0.7"/>
<line x1="1277.2" y1="547.7" x2="1277.2" y2="608" stroke="#4e9a1c" stroke-width="1" opacity="0.7"/>
<line x1="1276.7" y1="559.7" x2="1276.7" y2="607.4" stroke="#4e9a1c" stroke-width="1" opacity="0.7"/>
<line x1="1286.4" y1="563.4" x2="1286.4" y2="616" stroke="#4e9a1c" stroke-width="1" opacity="0.7"/>
<line x1="1259.4" y1="564.8" x2="1259.4" y2="600" stroke="#4e9a1c" stroke-width="1" opacity="0.7"/>
<line x1="1136.3" y1="546.2" x2="1136.3" y2="608.2" stroke="#4e9a1c" stroke-width="1" opacity="0.7"/>
<line x1="1248.2" y1="549.8" x2="1248.2" y2="604.2" stroke="#4e9a1c" stroke-width="1" opacity="0.7"/>
<line x1="1166.2" y1="550.2" x2="1166.2" y2="599.1" stroke="#4e9a1c" stroke-width="1" opacity="0.7"/>
<line x1="1201.7" y1="551" x2="1201.7" y2="606.3" stroke="#4e9a1c" stroke-width="1" opacity="0.7"/>
<line x1="1240.9" y1="561.5" x2="1240.9" y2="593.5" stroke="#4e9a1c" stroke-width="1" opacity="0.7"/>
<line x1="1194.5" y1="558.4" x2="1194.5" y2="600.1" stroke="#4e9a1c" stroke-width="1" opacity="0.7"/>
<line x1="1187.6" y1="551.2" x2="1187.6" y2="613.2" stroke="#4e9a1c" stroke-width="1" opacity="0.7"/>
<line x1="1182.2" y1="545.9" x2="1182.2" y2="604.6" stroke="#4e9a1c" stroke-width="1" opacity="0.7"/>
<line x1="1263.4" y1="546.7" x2="1263.4" y2="593" stroke="#4e9a1c" stroke-width="1" opacity="0.7"/>
<line x1="1139" y1="549.8" x2="1139" y2="599.2" stroke="#4e9a1c" stroke-width="1" opacity="0.7"/>
<line x1="1229.3" y1="554.6" x2="1229.3" y2="613.8" stroke="#4e9a1c" stroke-width="1" opacity="0.7"/>
<line x1="1170" y1="547.5" x2="1170" y2="622.4" stroke="#4e9a1c" stroke-width="1" opacity="0.7"/>
<line x1="1218.9" y1="556.2" x2="1218.9" y2="592.2" stroke="#4e9a1c" stroke-width="1" opacity="0.7"/>
<line x1="1223.1" y1="567.3" x2="1223.1" y2="594.4" stroke="#4e9a1c" stroke-width="1" opacity="0.7"/>
<line x1="1140.6" y1="555.9" x2="1140.6" y2="613.1" stroke="#4e9a1c" stroke-width="1" opacity="0.7"/>
<line x1="1134" y1="549.6" x2="1134" y2="624.5" stroke="#4e9a1c" stroke-width="1" opacity="0.7"/>
<line x1="1243.7" y1="564.7" x2="1243.7" y2="617.7" stroke="#4e9a1c" stroke-width="1" opacity="0.7"/>
<line x1="1141.8" y1="565" x2="1141.8" y2="598.4" stroke="#4e9a1c" stroke-width="1" opacity="0.7"/>
<line x1="1164.9" y1="568.7" x2="1164.9" y2="599.4" stroke="#4e9a1c" stroke-width="1" opacity="0.7"/>
<polyline points="1114,640 1120,612 1124,630 1127,618 1130,616 1132,618 1134,616.7 1136,618 1138,616 1140,616.8 1142,616 1144,615.9 1146,617.1 1148,616.8 1150,616.2 1152,618.2 1154,617.5 1156,616.3 1158,615.9 1160,617.9 1162,615.8 1164,616.2 1166,616 1168,618.1 1170,615.8 1172,616.4 1174,617.3 1176,618 1178,617.7 1180,617.2 1182,618.3 1184,616.8 1186,618.4 1188,617.9 1190,618 1192,617.1 1194,616.4 1196,616.1 1198,617.7 1200,615.9 1202,616.6 1204,617.2 1206,618.5 1208,617.4 1210,617.5 1212,615.9 1214,615.6 1216,616.8 1218,617.3 1220,615.6 1222,616.4 1224,615.9 1226,617.4 1228,616.8 1230,616.6 1232,616.9 1234,617.6 1236,618.1 1238,617.1 1240,617.1 1242,616.4 1244,618 1246,615.6 1248,616.3 1250,616.5 1252,617.5 1254,617.7 1256,618.1 1258,617.6 1260,616.9 1262,615.8 1264,616.6 1266,617.5 1268,618 1270,618.4 1272,616.8 1274,617.7 1276,616.3 1278,616.6 1280,615.6 1282,617.1 1284,616.5 1286,616.7 1288,616.8 1290,614 1340,612.5" fill="none" stroke="#e8901f" stroke-width="2.2" stroke-linejoin="round"/>
<rect x="1208" y="647" width="3" height="17" fill="#8ae6ee" opacity="0.95" />
<rect x="1255" y="647" width="3" height="17" fill="#8ae6ee" opacity="0.95" />
<line x1="1328" y1="540" x2="1328" y2="552" stroke="#6abd2a" stroke-width="1.5" opacity="0.8"/>
<line x1="198.6" y1="541" x2="198.6" y2="551" stroke="#6abd2a" stroke-width="1.5" opacity="0.7"/>
<line x1="258.1" y1="541" x2="258.1" y2="551" stroke="#6abd2a" stroke-width="1.5" opacity="0.7"/>
<line x1="317.6" y1="541" x2="317.6" y2="551" stroke="#6abd2a" stroke-width="1.5" opacity="0.7"/>
<line x1="377.2" y1="541" x2="377.2" y2="551" stroke="#6abd2a" stroke-width="1.5" opacity="0.7"/>
<line x1="436.8" y1="541" x2="436.8" y2="551" stroke="#6abd2a" stroke-width="1.5" opacity="0.7"/>
<line x1="496.3" y1="541" x2="496.3" y2="551" stroke="#6abd2a" stroke-width="1.5" opacity="0.7"/>
<line x1="555.8" y1="541" x2="555.8" y2="551" stroke="#6abd2a" stroke-width="1.5" opacity="0.7"/>
<line x1="615.4" y1="541" x2="615.4" y2="551" stroke="#6abd2a" stroke-width="1.5" opacity="0.7"/>
<line x1="674.9" y1="541" x2="674.9" y2="551" stroke="#6abd2a" stroke-width="1.5" opacity="0.7"/>
<line x1="734.5" y1="541" x2="734.5" y2="551" stroke="#6abd2a" stroke-width="1.5" opacity="0.7"/>
<line x1="794" y1="541" x2="794" y2="551" stroke="#6abd2a" stroke-width="1.5" opacity="0.7"/>
<line x1="853.6" y1="541" x2="853.6" y2="551" stroke="#6abd2a" stroke-width="1.5" opacity="0.7"/>
<line x1="913.1" y1="541" x2="913.1" y2="551" stroke="#6abd2a" stroke-width="1.5" opacity="0.7"/>
<line x1="972.7" y1="541" x2="972.7" y2="551" stroke="#6abd2a" stroke-width="1.5" opacity="0.7"/>
<line x1="1032.2" y1="541" x2="1032.2" y2="551" stroke="#6abd2a" stroke-width="1.5" opacity="0.7"/>
<line x1="1091.8" y1="541" x2="1091.8" y2="551" stroke="#6abd2a" stroke-width="1.5" opacity="0.7"/>
<polyline points="141,697.8 170,694 200,691.5 257,688 300,684.5 317,681 376,679.5 500,679 1340,675" fill="none" stroke="#7e2aa6" stroke-width="3.0" stroke-linejoin="round" opacity="0.95"/>
<line x1="141" y1="711.8" x2="1341" y2="709.5" stroke="#90601e" stroke-width="3.2" opacity="0.95"/>
<line x1="81" y1="693" x2="1341" y2="693" stroke="#24252e" stroke-width="2.5" opacity="0.8"/>
<line x1="81" y1="731" x2="1341" y2="731" stroke="#24252e" stroke-width="2.5" opacity="0.8"/>
<rect x="197.1" y="667" width="3" height="20" fill="#8a2ab0" opacity="0.55" />
<rect x="197.4" y="672" width="2.4" height="5" fill="#c040c0" opacity="0.5" />
<rect x="197.1" y="703" width="3" height="18" fill="#b07020" opacity="0.6" />
<rect x="196.6" y="703" width="4" height="2.5" fill="#d08020" opacity="0.6" />
<rect x="196.6" y="718" width="4" height="2.5" fill="#d08020" opacity="0.6" />
<rect x="256.6" y="667" width="3" height="20" fill="#8a2ab0" opacity="0.55" />
<rect x="256.9" y="672" width="2.4" height="5" fill="#c040c0" opacity="0.5" />
<rect x="256.6" y="703" width="3" height="18" fill="#b07020" opacity="0.6" />
<rect x="256.1" y="703" width="4" height="2.5" fill="#d08020" opacity="0.6" />
<rect x="256.1" y="718" width="4" height="2.5" fill="#d08020" opacity="0.6" />
<rect x="316.1" y="667" width="3" height="20" fill="#8a2ab0" opacity="0.55" />
<rect x="316.4" y="672" width="2.4" height="5" fill="#c040c0" opacity="0.5" />
<rect x="316.1" y="703" width="3" height="18" fill="#b07020" opacity="0.6" />
<rect x="315.6" y="703" width="4" height="2.5" fill="#d08020" opacity="0.6" />
<rect x="315.6" y="718" width="4" height="2.5" fill="#d08020" opacity="0.6" />
<rect x="375.7" y="667" width="3" height="20" fill="#8a2ab0" opacity="0.55" />
<rect x="376" y="672" width="2.4" height="5" fill="#c040c0" opacity="0.5" />
<rect x="375.7" y="703" width="3" height="18" fill="#b07020" opacity="0.6" />
<rect x="375.2" y="703" width="4" height="2.5" fill="#d08020" opacity="0.6" />
<rect x="375.2" y="718" width="4" height="2.5" fill="#d08020" opacity="0.6" />
<rect x="435.2" y="667" width="3" height="20" fill="#8a2ab0" opacity="0.55" />
<rect x="435.6" y="672" width="2.4" height="5" fill="#c040c0" opacity="0.5" />
<rect x="435.2" y="703" width="3" height="18" fill="#b07020" opacity="0.6" />
<rect x="434.8" y="703" width="4" height="2.5" fill="#d08020" opacity="0.6" />
<rect x="434.8" y="718" width="4" height="2.5" fill="#d08020" opacity="0.6" />
<rect x="494.8" y="667" width="3" height="20" fill="#8a2ab0" opacity="0.55" />
<rect x="495.1" y="672" width="2.4" height="5" fill="#c040c0" opacity="0.5" />
<rect x="494.8" y="703" width="3" height="18" fill="#b07020" opacity="0.6" />
<rect x="494.3" y="703" width="4" height="2.5" fill="#d08020" opacity="0.6" />
<rect x="494.3" y="718" width="4" height="2.5" fill="#d08020" opacity="0.6" />
<rect x="554.3" y="667" width="3" height="20" fill="#8a2ab0" opacity="0.55" />
<rect x="554.6" y="672" width="2.4" height="5" fill="#c040c0" opacity="0.5" />
<rect x="554.3" y="703" width="3" height="18" fill="#b07020" opacity="0.6" />
<rect x="553.8" y="703" width="4" height="2.5" fill="#d08020" opacity="0.6" />
<rect x="553.8" y="718" width="4" height="2.5" fill="#d08020" opacity="0.6" />
<rect x="613.9" y="667" width="3" height="20" fill="#8a2ab0" opacity="0.55" />
<rect x="614.2" y="672" width="2.4" height="5" fill="#c040c0" opacity="0.5" />
<rect x="613.9" y="703" width="3" height="18" fill="#b07020" opacity="0.6" />
<rect x="613.4" y="703" width="4" height="2.5" fill="#d08020" opacity="0.6" />
<rect x="613.4" y="718" width="4" height="2.5" fill="#d08020" opacity="0.6" />
<rect x="673.4" y="667" width="3" height="20" fill="#8a2ab0" opacity="0.55" />
<rect x="673.7" y="672" width="2.4" height="5" fill="#c040c0" opacity="0.5" />
<rect x="673.4" y="703" width="3" height="18" fill="#b07020" opacity="0.6" />
<rect x="672.9" y="703" width="4" height="2.5" fill="#d08020" opacity="0.6" />
<rect x="672.9" y="718" width="4" height="2.5" fill="#d08020" opacity="0.6" />
<rect x="733" y="667" width="3" height="20" fill="#8a2ab0" opacity="0.55" />
<rect x="733.3" y="672" width="2.4" height="5" fill="#c040c0" opacity="0.5" />
<rect x="733" y="703" width="3" height="18" fill="#b07020" opacity="0.6" />
<rect x="732.5" y="703" width="4" height="2.5" fill="#d08020" opacity="0.6" />
<rect x="732.5" y="718" width="4" height="2.5" fill="#d08020" opacity="0.6" />
<rect x="792.5" y="667" width="3" height="20" fill="#8a2ab0" opacity="0.55" />
<rect x="792.8" y="672" width="2.4" height="5" fill="#c040c0" opacity="0.5" />
<rect x="792.5" y="703" width="3" height="18" fill="#b07020" opacity="0.6" />
<rect x="792" y="703" width="4" height="2.5" fill="#d08020" opacity="0.6" />
<rect x="792" y="718" width="4" height="2.5" fill="#d08020" opacity="0.6" />
<rect x="852.1" y="667" width="3" height="20" fill="#8a2ab0" opacity="0.55" />
<rect x="852.4" y="672" width="2.4" height="5" fill="#c040c0" opacity="0.5" />
<rect x="852.1" y="703" width="3" height="18" fill="#b07020" opacity="0.6" />
<rect x="851.6" y="703" width="4" height="2.5" fill="#d08020" opacity="0.6" />
<rect x="851.6" y="718" width="4" height="2.5" fill="#d08020" opacity="0.6" />
<rect x="911.6" y="667" width="3" height="20" fill="#8a2ab0" opacity="0.55" />
<rect x="911.9" y="672" width="2.4" height="5" fill="#c040c0" opacity="0.5" />
<rect x="911.6" y="703" width="3" height="18" fill="#b07020" opacity="0.6" />
<rect x="911.1" y="703" width="4" height="2.5" fill="#d08020" opacity="0.6" />
<rect x="911.1" y="718" width="4" height="2.5" fill="#d08020" opacity="0.6" />
<rect x="971.2" y="667" width="3" height="20" fill="#8a2ab0" opacity="0.55" />
<rect x="971.5" y="672" width="2.4" height="5" fill="#c040c0" opacity="0.5" />
<rect x="971.2" y="703" width="3" height="18" fill="#b07020" opacity="0.6" />
<rect x="970.7" y="703" width="4" height="2.5" fill="#d08020" opacity="0.6" />
<rect x="970.7" y="718" width="4" height="2.5" fill="#d08020" opacity="0.6" />
<rect x="1030.8" y="667" width="3" height="20" fill="#8a2ab0" opacity="0.55" />
<rect x="1031" y="672" width="2.4" height="5" fill="#c040c0" opacity="0.5" />
<rect x="1030.8" y="703" width="3" height="18" fill="#b07020" opacity="0.6" />
<rect x="1030.2" y="703" width="4" height="2.5" fill="#d08020" opacity="0.6" />
<rect x="1030.2" y="718" width="4" height="2.5" fill="#d08020" opacity="0.6" />
<rect x="1090.3" y="667" width="3" height="20" fill="#8a2ab0" opacity="0.55" />
<rect x="1090.6" y="672" width="2.4" height="5" fill="#c040c0" opacity="0.5" />
<rect x="1090.3" y="703" width="3" height="18" fill="#b07020" opacity="0.6" />
<rect x="1089.8" y="703" width="4" height="2.5" fill="#d08020" opacity="0.6" />
<rect x="1089.8" y="718" width="4" height="2.5" fill="#d08020" opacity="0.6" />
<rect x="1149.8" y="667" width="3" height="20" fill="#8a2ab0" opacity="0.55" />
<rect x="1150.1" y="672" width="2.4" height="5" fill="#c040c0" opacity="0.5" />
<rect x="1149.8" y="703" width="3" height="18" fill="#b07020" opacity="0.6" />
<rect x="1149.3" y="703" width="4" height="2.5" fill="#d08020" opacity="0.6" />
<rect x="1149.3" y="718" width="4" height="2.5" fill="#d08020" opacity="0.6" />
<rect x="1209.4" y="667" width="3" height="20" fill="#8a2ab0" opacity="0.55" />
<rect x="1209.7" y="672" width="2.4" height="5" fill="#c040c0" opacity="0.5" />
<rect x="1209.4" y="703" width="3" height="18" fill="#b07020" opacity="0.6" />
<rect x="1208.9" y="703" width="4" height="2.5" fill="#d08020" opacity="0.6" />
<rect x="1208.9" y="718" width="4" height="2.5" fill="#d08020" opacity="0.6" />
<rect x="1269" y="667" width="3" height="20" fill="#8a2ab0" opacity="0.55" />
<rect x="1269.2" y="672" width="2.4" height="5" fill="#c040c0" opacity="0.5" />
<rect x="1269" y="703" width="3" height="18" fill="#b07020" opacity="0.6" />
<rect x="1268.5" y="703" width="4" height="2.5" fill="#d08020" opacity="0.6" />
<rect x="1268.5" y="718" width="4" height="2.5" fill="#d08020" opacity="0.6" />
<rect x="1328.5" y="667" width="3" height="20" fill="#8a2ab0" opacity="0.55" />
<rect x="1328.8" y="672" width="2.4" height="5" fill="#c040c0" opacity="0.5" />
<rect x="1328.5" y="703" width="3" height="18" fill="#b07020" opacity="0.6" />
<rect x="1328" y="703" width="4" height="2.5" fill="#d08020" opacity="0.6" />
<rect x="1328" y="718" width="4" height="2.5" fill="#d08020" opacity="0.6" />
<rect x="107.5" y="733.3" width="401" height="81.2" fill="#fbf985" />
<rect x="508.5" y="733.3" width="608" height="81.2" fill="#ecc487" />
<rect x="1116.5" y="733.3" width="224.5" height="81.2" fill="#e08a82" />
<polyline points="108,776 200,775 280,774 360,777 440,775 508,772 520,766 600,765 667,763 700,762 800,760 900,758 1000,757 1116,754 1341,752" fill="none" stroke="#eef2d8" stroke-width="1.4" stroke-linejoin="round" opacity="0.6"/>
<text transform="translate(142.5,736) rotate(90)" font-family="Liberation Sans, Arial, sans-serif" font-size="10.5" font-weight="bold" fill="#35405a">8%</text>
<text transform="translate(202.1,736) rotate(90)" font-family="Liberation Sans, Arial, sans-serif" font-size="10.5" font-weight="bold" fill="#35405a">21%</text>
<text transform="translate(261.6,736) rotate(90)" font-family="Liberation Sans, Arial, sans-serif" font-size="10.5" font-weight="bold" fill="#35405a">26%</text>
<text transform="translate(321.1,736) rotate(90)" font-family="Liberation Sans, Arial, sans-serif" font-size="10.5" font-weight="bold" fill="#35405a">34%</text>
<text transform="translate(380.7,736) rotate(90)" font-family="Liberation Sans, Arial, sans-serif" font-size="10.5" font-weight="bold" fill="#35405a">40%</text>
<text transform="translate(440.2,736) rotate(90)" font-family="Liberation Sans, Arial, sans-serif" font-size="10.5" font-weight="bold" fill="#35405a">37%</text>
<text transform="translate(499.8,736) rotate(90)" font-family="Liberation Sans, Arial, sans-serif" font-size="10.5" font-weight="bold" fill="#35405a">45%</text>
<text transform="translate(559.3,736) rotate(90)" font-family="Liberation Sans, Arial, sans-serif" font-size="10.5" font-weight="bold" fill="#35405a">51%</text>
<text transform="translate(618.9,736) rotate(90)" font-family="Liberation Sans, Arial, sans-serif" font-size="10.5" font-weight="bold" fill="#35405a">56%</text>
<text transform="translate(678.4,736) rotate(90)" font-family="Liberation Sans, Arial, sans-serif" font-size="10.5" font-weight="bold" fill="#35405a">58%</text>
<text transform="translate(738.0,736) rotate(90)" font-family="Liberation Sans, Arial, sans-serif" font-size="10.5" font-weight="bold" fill="#35405a">63%</text>
<text transform="translate(797.5,736) rotate(90)" font-family="Liberation Sans, Arial, sans-serif" font-size="10.5" font-weight="bold" fill="#35405a">60%</text>
<text transform="translate(857.1,736) rotate(90)" font-family="Liberation Sans, Arial, sans-serif" font-size="10.5" font-weight="bold" fill="#35405a">66%</text>
<text transform="translate(916.6,736) rotate(90)" font-family="Liberation Sans, Arial, sans-serif" font-size="10.5" font-weight="bold" fill="#35405a">69%</text>
<text transform="translate(976.2,736) rotate(90)" font-family="Liberation Sans, Arial, sans-serif" font-size="10.5" font-weight="bold" fill="#35405a">72%</text>
<text transform="translate(1035.8,736) rotate(90)" font-family="Liberation Sans, Arial, sans-serif" font-size="10.5" font-weight="bold" fill="#35405a">74%</text>
<text transform="translate(1095.3,736) rotate(90)" font-family="Liberation Sans, Arial, sans-serif" font-size="10.5" font-weight="bold" fill="#35405a">78%</text>
<text transform="translate(1154.8,736) rotate(90)" font-family="Liberation Sans, Arial, sans-serif" font-size="10.5" font-weight="bold" fill="#35405a">83%</text>
<text transform="translate(1214.4,736) rotate(90)" font-family="Liberation Sans, Arial, sans-serif" font-size="10.5" font-weight="bold" fill="#35405a">85%</text>
<text transform="translate(1274.0,736) rotate(90)" font-family="Liberation Sans, Arial, sans-serif" font-size="10.5" font-weight="bold" fill="#35405a">88%</text>
<text transform="translate(1333.5,736) rotate(90)" font-family="Liberation Sans, Arial, sans-serif" font-size="10.5" font-weight="bold" fill="#35405a">90%</text>
<line x1="78" y1="244" x2="78" y2="322" stroke="#4a8f99" stroke-width="2.4" opacity="0.8"/>
<rect x="72" y="263.5" width="4" height="9" fill="#4a8f99" opacity="0.45" />
<rect x="72" y="280.7" width="4" height="9" fill="#4a8f99" opacity="0.45" />
<rect x="72" y="297.8" width="4" height="9" fill="#4a8f99" opacity="0.45" />
<line x1="78" y1="321" x2="84" y2="321" stroke="#4a8f99" stroke-width="1.5" opacity="0.7"/>
<line x1="78" y1="283" x2="84" y2="283" stroke="#4a8f99" stroke-width="1.5" opacity="0.7"/>
<line x1="78" y1="245" x2="84" y2="245" stroke="#4a8f99" stroke-width="1.5" opacity="0.7"/>
<line x1="97" y1="244" x2="97" y2="322" stroke="#a02a1c" stroke-width="2.4" opacity="0.8"/>
<rect x="91" y="263.5" width="4" height="9" fill="#a02a1c" opacity="0.45" />
<rect x="91" y="280.7" width="4" height="9" fill="#a02a1c" opacity="0.45" />
<rect x="91" y="297.8" width="4" height="9" fill="#a02a1c" opacity="0.45" />
<line x1="97" y1="321" x2="103" y2="321" stroke="#a02a1c" stroke-width="1.5" opacity="0.7"/>
<line x1="97" y1="283" x2="103" y2="283" stroke="#a02a1c" stroke-width="1.5" opacity="0.7"/>
<line x1="97" y1="245" x2="103" y2="245" stroke="#a02a1c" stroke-width="1.5" opacity="0.7"/>
<line x1="117" y1="244" x2="117" y2="322" stroke="#8a8a22" stroke-width="2.4" opacity="0.8"/>
<rect x="111" y="263.5" width="4" height="9" fill="#8a8a22" opacity="0.45" />
<rect x="111" y="280.7" width="4" height="9" fill="#8a8a22" opacity="0.45" />
<rect x="111" y="297.8" width="4" height="9" fill="#8a8a22" opacity="0.45" />
<line x1="117" y1="321" x2="123" y2="321" stroke="#8a8a22" stroke-width="1.5" opacity="0.7"/>
<line x1="117" y1="283" x2="123" y2="283" stroke="#8a8a22" stroke-width="1.5" opacity="0.7"/>
<line x1="117" y1="245" x2="123" y2="245" stroke="#8a8a22" stroke-width="1.5" opacity="0.7"/>
<line x1="79" y1="370" x2="79" y2="465" stroke="#8a2ac0" stroke-width="2.4" opacity="0.8"/>
<rect x="73" y="393.8" width="4" height="9" fill="#8a2ac0" opacity="0.45" />
<rect x="73" y="414.6" width="4" height="9" fill="#8a2ac0" opacity="0.45" />
<rect x="73" y="435.6" width="4" height="9" fill="#8a2ac0" opacity="0.45" />
<line x1="79" y1="464" x2="85" y2="464" stroke="#8a2ac0" stroke-width="1.5" opacity="0.7"/>
<line x1="79" y1="417.5" x2="85" y2="417.5" stroke="#8a2ac0" stroke-width="1.5" opacity="0.7"/>
<line x1="79" y1="371" x2="85" y2="371" stroke="#8a2ac0" stroke-width="1.5" opacity="0.7"/>
<line x1="97" y1="370" x2="97" y2="465" stroke="#a06a18" stroke-width="2.4" opacity="0.8"/>
<rect x="91" y="393.8" width="4" height="9" fill="#a06a18" opacity="0.45" />
<rect x="91" y="414.6" width="4" height="9" fill="#a06a18" opacity="0.45" />
<rect x="91" y="435.6" width="4" height="9" fill="#a06a18" opacity="0.45" />
<line x1="97" y1="464" x2="103" y2="464" stroke="#a06a18" stroke-width="1.5" opacity="0.7"/>
<line x1="97" y1="417.5" x2="103" y2="417.5" stroke="#a06a18" stroke-width="1.5" opacity="0.7"/>
<line x1="97" y1="371" x2="103" y2="371" stroke="#a06a18" stroke-width="1.5" opacity="0.7"/>
<line x1="117" y1="370" x2="117" y2="465" stroke="#a02a1c" stroke-width="2.4" opacity="0.8"/>
<rect x="111" y="393.8" width="4" height="9" fill="#a02a1c" opacity="0.45" />
<rect x="111" y="414.6" width="4" height="9" fill="#a02a1c" opacity="0.45" />
<rect x="111" y="435.6" width="4" height="9" fill="#a02a1c" opacity="0.45" />
<line x1="117" y1="464" x2="123" y2="464" stroke="#a02a1c" stroke-width="1.5" opacity="0.7"/>
<line x1="117" y1="417.5" x2="123" y2="417.5" stroke="#a02a1c" stroke-width="1.5" opacity="0.7"/>
<line x1="117" y1="371" x2="123" y2="371" stroke="#a02a1c" stroke-width="1.5" opacity="0.7"/>
<line x1="76" y1="540" x2="76" y2="662" stroke="#5aa4ac" stroke-width="2.4" opacity="0.8"/>
<rect x="70" y="570.5" width="4" height="9" fill="#5aa4ac" opacity="0.45" />
<rect x="70" y="597.3" width="4" height="9" fill="#5aa4ac" opacity="0.45" />
<rect x="70" y="624.2" width="4" height="9" fill="#5aa4ac" opacity="0.45" />
<line x1="76" y1="661" x2="82" y2="661" stroke="#5aa4ac" stroke-width="1.5" opacity="0.7"/>
<line x1="76" y1="601" x2="82" y2="601" stroke="#5aa4ac" stroke-width="1.5" opacity="0.7"/>
<line x1="76" y1="541" x2="82" y2="541" stroke="#5aa4ac" stroke-width="1.5" opacity="0.7"/>
<line x1="97" y1="540" x2="97" y2="662" stroke="#a06a18" stroke-width="2.4" opacity="0.8"/>
<rect x="91" y="570.5" width="4" height="9" fill="#a06a18" opacity="0.45" />
<rect x="91" y="597.3" width="4" height="9" fill="#a06a18" opacity="0.45" />
<rect x="91" y="624.2" width="4" height="9" fill="#a06a18" opacity="0.45" />
<line x1="97" y1="661" x2="103" y2="661" stroke="#a06a18" stroke-width="1.5" opacity="0.7"/>
<line x1="97" y1="601" x2="103" y2="601" stroke="#a06a18" stroke-width="1.5" opacity="0.7"/>
<line x1="97" y1="541" x2="103" y2="541" stroke="#a06a18" stroke-width="1.5" opacity="0.7"/>
<line x1="117" y1="540" x2="117" y2="662" stroke="#5aa020" stroke-width="2.4" opacity="0.8"/>
<rect x="111" y="570.5" width="4" height="9" fill="#5aa020" opacity="0.45" />
<rect x="111" y="597.3" width="4" height="9" fill="#5aa020" opacity="0.45" />
<rect x="111" y="624.2" width="4" height="9" fill="#5aa020" opacity="0.45" />
<line x1="117" y1="661" x2="123" y2="661" stroke="#5aa020" stroke-width="1.5" opacity="0.7"/>
<line x1="117" y1="601" x2="123" y2="601" stroke="#5aa020" stroke-width="1.5" opacity="0.7"/>
<line x1="117" y1="541" x2="123" y2="541" stroke="#5aa020" stroke-width="1.5" opacity="0.7"/>
<line x1="79" y1="328" x2="79" y2="340" stroke="#e09020" stroke-width="3" opacity="0.8"/>
<line x1="80" y1="351" x2="80" y2="362" stroke="#d0d040" stroke-width="3" opacity="0.8"/>
<line x1="79" y1="349" x2="79" y2="352" stroke="#e04040" stroke-width="3" opacity="0.8"/>
<line x1="79" y1="360" x2="79" y2="366" stroke="#e8e8f0" stroke-width="3" opacity="0.8"/>
<line x1="79" y1="470" x2="79" y2="492" stroke="#6060e0" stroke-width="3" opacity="0.8"/>
<line x1="79" y1="492" x2="79" y2="508" stroke="#e08080" stroke-width="3" opacity="0.8"/>
<line x1="79" y1="530" x2="79" y2="536" stroke="#e8e8f0" stroke-width="3" opacity="0.8"/>
<line x1="79" y1="520" x2="79" y2="526" stroke="#6060e0" stroke-width="3" opacity="0.8"/>
<line x1="79" y1="526" x2="79" y2="531" stroke="#e08080" stroke-width="3" opacity="0.8"/>
<line x1="79" y1="667" x2="79" y2="697" stroke="#8a2ac0" stroke-width="2.4" opacity="0.8"/>
<line x1="75" y1="703" x2="75" y2="731" stroke="#a06a18" stroke-width="2" opacity="0.8"/>
<line x1="79" y1="703" x2="79" y2="731" stroke="#a06a18" stroke-width="2" opacity="0.8"/>
<line x1="79" y1="737" x2="79" y2="760" stroke="#e09090" stroke-width="2.4" opacity="0.8"/>
<line x1="79" y1="760" x2="79" y2="790" stroke="#e8d890" stroke-width="2.4" opacity="0.8"/>
<line x1="79" y1="790" x2="79" y2="812" stroke="#b0e0a0" stroke-width="2.4" opacity="0.8"/>
<line x1="84" y1="737" x2="84" y2="812" stroke="#3a7a20" stroke-width="1.5" opacity="0.8"/>
<line x1="93" y1="737" x2="93" y2="812" stroke="#3a7a20" stroke-width="1.5" opacity="0.8"/>
<line x1="87" y1="698" x2="130" y2="698" stroke="#6a2a90" stroke-width="2" opacity="0.7"/>
<line x1="85" y1="711.5" x2="130" y2="711.5" stroke="#a0661c" stroke-width="2" opacity="0.8"/>
<line x1="79" y1="682" x2="87" y2="682" stroke="#8a2ac0" stroke-width="1.5" opacity="0.8"/>
<rect x="98.5" y="740" width="3.5" height="30" fill="#c8ccd8" opacity="0.35" />
<rect x="98.5" y="780" width="3.5" height="30" fill="#c8ccd8" opacity="0.35" />
<rect x="125.5" y="570" width="3.5" height="70" fill="#c8ccd8" opacity="0.35" />
<rect x="66.5" y="340" width="3.5" height="6" fill="#c8ccd8" opacity="0.35" />
<rect x="66.5" y="356" width="3.5" height="6" fill="#c8ccd8" opacity="0.35" />
<rect x="66.5" y="480" width="3.5" height="20" fill="#c8ccd8" opacity="0.35" />
<rect x="66.5" y="525" width="3.5" height="8" fill="#c8ccd8" opacity="0.35" />
<path d="M133.5,234 H500.5 Q503.5,234 503.5,237 V839.5 Q503.5,842.5 500.5,842.5 H133.5 Q130.5,842.5 130.5,839.5 V237 Q130.5,234 133.5,234 Z M140.5,244 V832.5 H493.5 V244 Z" fill="#fcfb40" fill-rule="evenodd"/><path d="M519,234 H1090.5 Q1093.5,234 1093.5,237 V838.5 Q1093.5,841.5 1090.5,841.5 H519 Q516,841.5 516,838.5 V237 Q516,234 519,234 Z M525.8,243.8 V831.7 H1083.7 V243.8 Z" fill="#e19d52" fill-rule="evenodd"/><path d="M1108.3,233.2 H1348 Q1351,233.2 1351,236.2 V839.2 Q1351,842.2 1348,842.2 H1108.3 Q1105.3,842.2 1105.3,839.2 V236.2 Q1105.3,233.2 1108.3,233.2 Z M1114.6,242.5 V832.9000000000001 H1341.7 V242.5 Z" fill="#c9391d" fill-rule="evenodd"/>
<path d="M96.5,878.2 Q136.5,851.2 180.2,819.8 L169.1,805.2 L216.9,805.2 L201.5,849.6 L194.7,841.1 Q145.6,872.0 96.5,878.2 Z" fill="#ebc137" stroke="#161616" stroke-width="1.7" stroke-linejoin="miter"/><path d="M540.9,878.7 Q580.9,853.6 621.0,817.0 L608.7,802.3 L659.5,804.2 L647.6,852.6 L640.0,841.7 Q590.4,876.3 540.9,878.7 Z" fill="#c97a2a" stroke="#161616" stroke-width="1.7" stroke-linejoin="miter"/><path d="M1110.2,889.1 Q1149.5,864.0 1188.8,828.9 L1180.2,817.0 L1223.8,817.4 L1212.7,861.8 L1206.7,852.0 Q1158.4,884.6 1110.2,889.1 Z" fill="#c83b1d" stroke="#161616" stroke-width="1.7" stroke-linejoin="miter"/>

<rect x="66.5" y="883" width="424.3" height="126" fill="#ecc236"/>
<rect x="517.8" y="882.5" width="568.4" height="127" fill="#df9b4f"/>
<rect x="1108.7" y="903.2" width="237.7" height="99.1" fill="#c8391c"/>


<rect x="1663.5" y="940.8" width="38" height="38.1" fill="#5c9d97"/>
<path d="M1664,970.5 L1696,945 L1673,979 L1664,979 Z" fill="#ffffff"/>

</svg>
<div id="title" class="abs">Example in real time</div>
<div id="banner" class="abs"><span>Below we have an example in a real drilling situation</span></div>
<svg class="abs" style="left:0;top:0" width="1916" height="1054" viewBox="0 0 1916 1054">
<g font-family="Liberation Sans, Arial, sans-serif" font-size="14.5" fill="#3c3a36" letter-spacing="-0.6">
<text x="287" y="777.5" text-anchor="middle">LOW</text>
<text x="812.5" y="777.5" text-anchor="middle">MED</text>
<text x="1230" y="777.5" text-anchor="middle">HIGH</text>
</g>
<g font-family="Liberation Sans, Arial, sans-serif" font-size="9" fill="#8e90b0" text-anchor="middle">
<text x="198.6" y="829">13:25</text><text x="258.1" y="829">13:35</text><text x="317.6" y="829">13:45</text><text x="377.2" y="829">13:55</text><text x="436.8" y="829">14:05</text><text x="496.3" y="829">14:15</text><text x="555.8" y="829">14:25</text><text x="615.4" y="829">14:35</text><text x="674.9" y="829">14:45</text><text x="734.5" y="829">14:55</text><text x="794.0" y="829">15:05</text><text x="853.6" y="829">15:15</text><text x="913.1" y="829">15:25</text><text x="972.7" y="829">15:35</text><text x="1032.2" y="829">15:45</text><text x="1091.8" y="829">15:55</text><text x="1151.3" y="829">16:05</text><text x="1210.9" y="829">16:15</text><text x="1270.5" y="829">16:25</text><text x="1330.0" y="829">16:35</text>
</g>
</svg>
<div id="rtext" class="abs">
<p>The probability predictor shows a<br>transition from LOW to MED risk level,<br>indicating a progressive deterioration<br>in drilling conditions.</p>
<p>During the MED probability interval,<br>the system provides a predictive<br>window for operational intervention,<br>where preventive actions could reduce<br>the likelihood of a stuck pipe event.</p>
<p>If the operational parameters remain<br>unchanged, the probability continues<br>increasing until the stuck pipe event<br>becomes imminent.</p>
</div>
<div class="box" style="left:66.5px;top:891.5px;width:424px;">Stable drilling conditions, with<br>parameters within acceptable ranges,<br>but with opportunities for further<br>optimization to reduce risk.</div>
<div class="box" style="left:517.8px;top:891.5px;width:568px;">Detection of a sustained increase in stuck pipe<br>probability, exceeding 50%.<br>Opportunity to modify operating conditions to lower<br>risk levels.</div>
<div class="box" style="left:1108.7px;top:913px;width:238px;">Stuck pipe event<br>becomes<br>unavoidable.</div>
<div id="logo" class="abs">ADAGA</div>
<div id="pnum" class="abs">4</div>
</div>
</body></html>
